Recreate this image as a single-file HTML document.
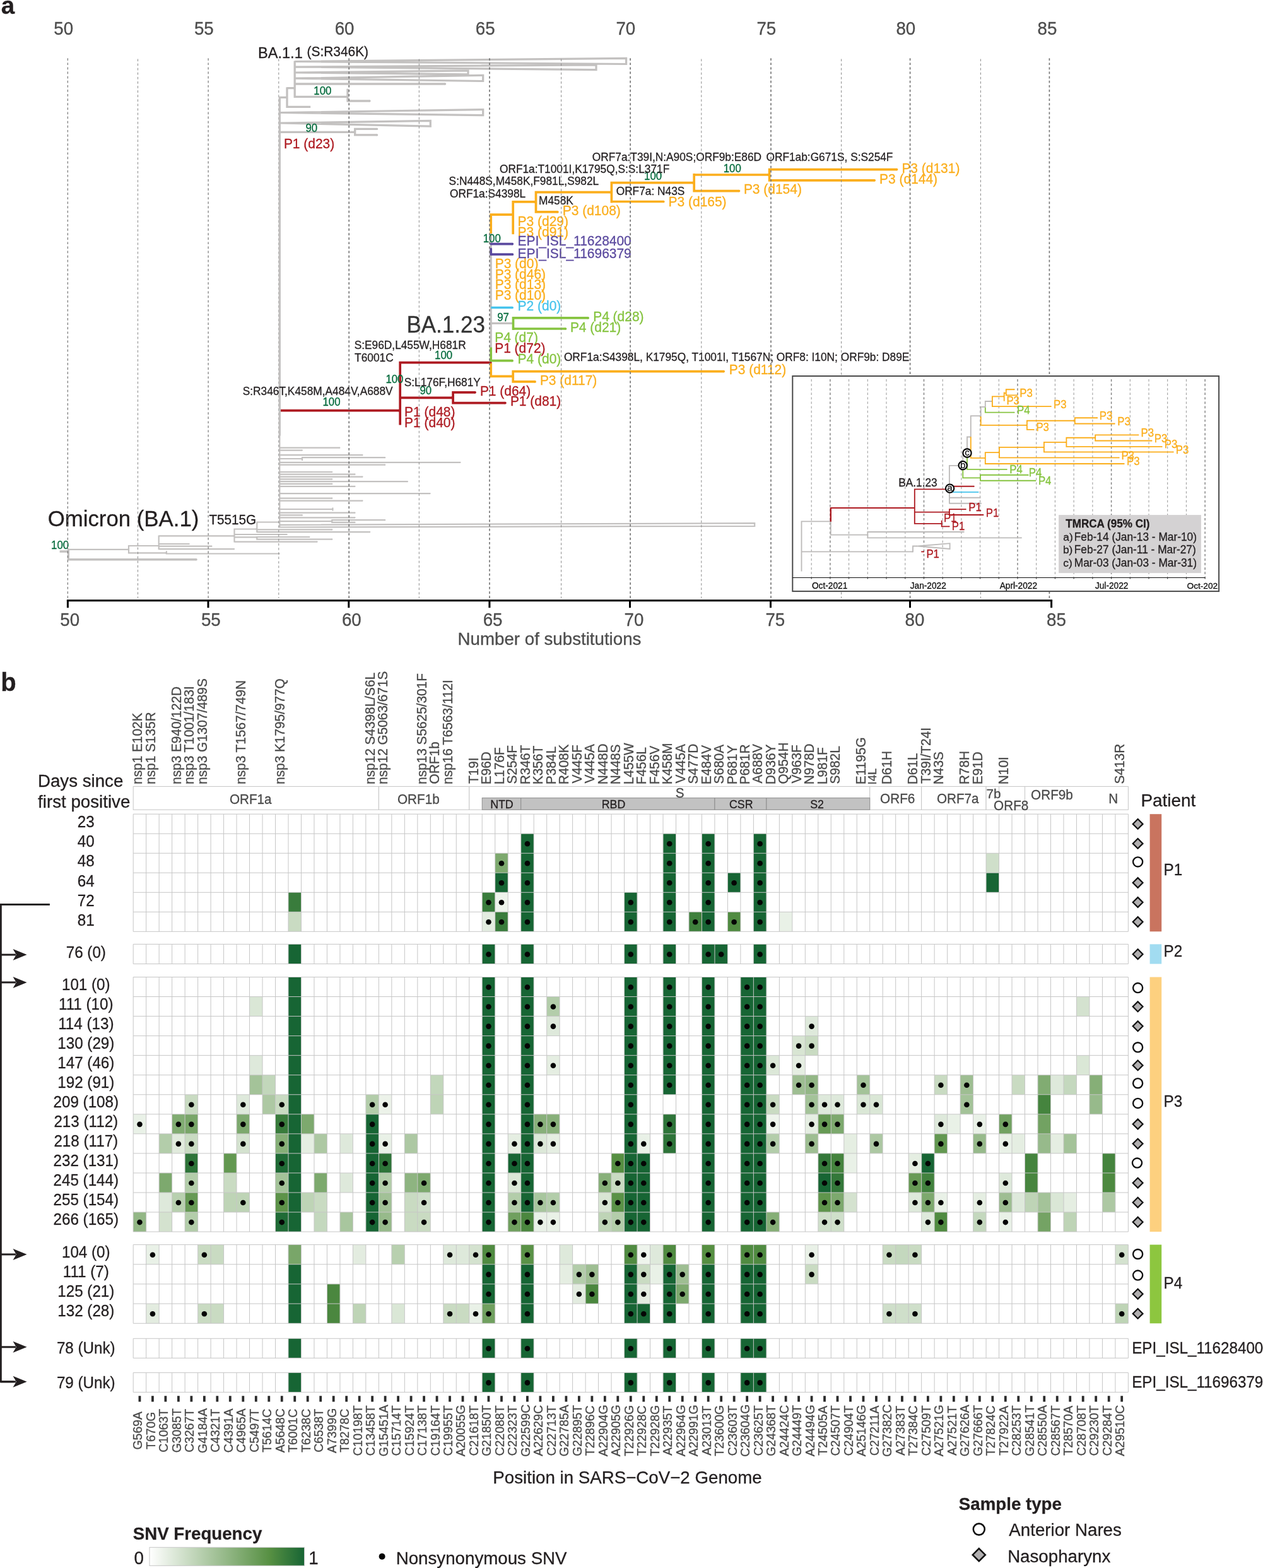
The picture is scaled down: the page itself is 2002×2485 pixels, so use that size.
<!DOCTYPE html>
<html lang="en"><head><meta charset="utf-8"><title>Figure</title>
<style>html,body{margin:0;padding:0;background:#fff}svg{display:block}text{white-space:pre}</style></head>
<body>
<svg width="2002" height="2485" viewBox="0 0 2002 2485" font-family="'Liberation Sans', sans-serif">
<rect width="2002" height="2485" fill="#fff"/>
<path d="M441.8 151.3V690.6" stroke="#8a8a8a" stroke-width="1.0" stroke-dasharray="3.7 3.4" stroke-dashoffset="1.00" fill="none"/>
<path d="M467.2 97.5L992.6 92.4V101.5ZM467.2 106.1L945 103V110.7ZM467.2 115.0L742 111.8V117.9ZM467.2 124.2L765.7 119.3V128.5ZM443.3 178.5L765.7 173.6V182.6ZM443.3 195.0L682.3 191.4V200.2Z" stroke="#c3c1c0" stroke-width="3.2" fill="none" stroke-linejoin="miter" stroke-miterlimit="2"/>
<path d="M443.3 152.7V690.6M441.8 154.3H453.4M455 138.2V169.3H492.2M455.0 139.7H465.6M467.2 96.4V153.4H551M551.0 140.7V160.6M549.5 160.0H586.0M467.2 133.0H705.6M443.3 209.3H561.1M562.7 202.8V215.6M562.7 204.4H597.6M562.7 213.9H597.6M778.2 367.9V551.1M778.2 512.4H810.9" stroke="#c3c1c0" stroke-width="3.3" fill="none" stroke-linecap="butt" stroke-linejoin="miter"/><path d="M453.4 154.3h0.01M465.6 139.7h0.01M586.0 160.0h0.01M705.6 133.0h0.01M561.1 209.3h0.01M597.6 204.4h0.01M597.6 213.9h0.01M810.9 512.4h0.01" stroke="#c3c1c0" stroke-width="3.3" fill="none" stroke-linecap="round"/>
<path d="M443.3 689.8V836.5M443.3 709.7H538.3M443.3 713.6H478.9M443.3 721.2H574.5M443.3 732.8H729.5M443.3 736.7H610.2M443.3 748.0H526.3M443.3 751.7H562.5M443.3 755.6H574.5M443.3 759.3H526.3M443.3 763.2H645.9M443.3 766.9H526.3M443.3 770.8H562.5M443.3 782.1H681.6M443.3 789.7H526.3M443.3 793.6H574.5M443.3 807.0H526.3M443.3 812.7H562.5M443.3 816.4H478.9M443.3 820.3H562.5M443.3 727.0H477.9M479.0 724.1V729.9M479.0 725.2H610.2M527.4 804.4V809.6M443.3 826.1H525.2M526.3 823.1V829.0M526.3 824.2H610.2M526.3 827.9H562.5M443.3 831.8L1196.2 829.2V833.8L443.3 835.5M108.4 870.8H202.9M204.0 864.0V877.4M204.0 876.3H262.8M263.9 873.2V878.5M263.9 877.5H442.7M204.0 865.0H250.6M251.7 848.4V871.1M251.7 862.0H299.7M251.7 865.7H335.4M251.7 870.1H371.1M251.7 849.4H370.4M371.5 837.5V859.6M371.5 838.5H406.2M407.3 826.5V844.1M407.3 827.5H442.2M407.3 843.1H586.2M407.3 839.4H526.3M371.5 847.0H454.7M371.5 851.3H406.2M407.3 850.0V855.8M407.3 851.0H490.4M407.3 854.7H526.3M371.5 858.6H502.6" stroke="#c3c1c0" stroke-width="2.2" fill="none" stroke-linecap="butt" stroke-linejoin="miter"/><path d="M538.3 709.7h0.01M478.9 713.6h0.01M574.5 721.2h0.01M729.5 732.8h0.01M610.2 736.7h0.01M526.3 748.0h0.01M562.5 751.7h0.01M574.5 755.6h0.01M526.3 759.3h0.01M645.9 763.2h0.01M526.3 766.9h0.01M562.5 770.8h0.01M681.6 782.1h0.01M526.3 789.7h0.01M574.5 793.6h0.01M526.3 807.0h0.01M562.5 812.7h0.01M478.9 816.4h0.01M562.5 820.3h0.01M477.9 727.0h0.01M610.2 725.2h0.01M525.2 826.1h0.01M610.2 824.2h0.01M562.5 827.9h0.01M202.9 870.8h0.01M262.8 876.3h0.01M442.7 877.5h0.01M250.6 865.0h0.01M299.7 862.0h0.01M335.4 865.7h0.01M371.1 870.1h0.01M370.4 849.4h0.01M406.2 838.5h0.01M442.2 827.5h0.01M586.2 843.1h0.01M526.3 839.4h0.01M454.7 847.0h0.01M406.2 851.3h0.01M490.4 851.0h0.01M526.3 854.7h0.01M502.6 858.6h0.01" stroke="#c3c1c0" stroke-width="2.2" fill="none" stroke-linecap="round"/>
<path d="M94.6 874.0H108.2M108.4 869.8V888.4M108.4 886.7H311.1" stroke="#c3c1c0" stroke-width="3.4" fill="none" stroke-linecap="butt" stroke-linejoin="miter"/><path d="M108.2 874.0h0.01M311.1 886.7h0.01" stroke="#c3c1c0" stroke-width="3.4" fill="none" stroke-linecap="round"/>
<path d="M445.0 650.6H632.4M634.2 572.8V673.5M634.2 574.6H777.9M634.2 630.4H716.2M718.1 619.9V640.5M718.1 621.8H753.1M718.1 638.6H800.9" stroke="#ae1b22" stroke-width="3.7" fill="none" stroke-linecap="butt" stroke-linejoin="miter"/><path d="M632.4 650.6h0.01M777.9 574.6h0.01M716.2 630.4h0.01M753.1 621.8h0.01M800.9 638.6h0.01" stroke="#ae1b22" stroke-width="3.7" fill="none" stroke-linecap="round"/>
<path d="M813.5 502.0V522.9M813.5 503.9H932.2M813.5 521.0H896.5M778.2 550.6V573.6M778.2 571.7H812.1" stroke="#86c440" stroke-width="3.7" fill="none" stroke-linecap="butt" stroke-linejoin="miter"/><path d="M932.2 503.9h0.01M896.5 521.0h0.01M812.1 571.7h0.01" stroke="#86c440" stroke-width="3.7" fill="none" stroke-linecap="round"/>
<path d="M778.2 370V340.2H813.2M813.2 318.0V371.2M813.2 319.9H847.6M849.5 302.8V337.8M849.5 335.9H883.9M849.5 304.6H967.5M969.4 287.8V321.4M969.4 319.5H1051.8M969.4 289.6H1098.4M1100.2 275.1V304.5M1100.2 302.6H1171.5M1100.2 277.0H1217.8M1219.6 266.8V287.7M1219.6 268.6H1421.5M1219.6 285.8H1386.2M778.2 575.8V596.4H813.2M813.2 586.8V606.8M813.2 588.6H1147.2M813.2 604.9H848.1" stroke="#fbae1c" stroke-width="3.7" fill="none" stroke-linecap="butt" stroke-linejoin="miter"/><path d="M847.6 319.9h0.01M883.9 335.9h0.01M967.5 304.6h0.01M1051.8 319.5h0.01M1098.4 289.6h0.01M1171.5 302.6h0.01M1217.8 277.0h0.01M1421.5 268.6h0.01M1386.2 285.8h0.01M1147.2 588.6h0.01M848.1 604.9h0.01" stroke="#fbae1c" stroke-width="3.7" fill="none" stroke-linecap="round"/>
<path d="M778.2 386.6H812.1M778.2 394.6V403.2H812.4M812.4 403.2h0.01" stroke="#5b4a9f" stroke-width="3.7" fill="none" stroke-linecap="round" stroke-linejoin="round"/><path d="M812.1 386.6h0.01" stroke="#5b4a9f" stroke-width="3.7" fill="none" stroke-linecap="round"/>
<path d="M778.2 487.5H812.1" stroke="#45c3ec" stroke-width="3.7" fill="none" stroke-linecap="butt" stroke-linejoin="miter"/><path d="M812.1 487.5h0.01" stroke="#45c3ec" stroke-width="3.7" fill="none" stroke-linecap="round"/>
<g fill="#fbae1c" stroke="#fbae1c" stroke-width="0.3">
<text x="1429.38" y="273.8" font-size="21.79" textLength="92.01" lengthAdjust="spacingAndGlyphs">P3 (d131)</text>
<text x="1394.08" y="290.5" font-size="21.79" textLength="92.01" lengthAdjust="spacingAndGlyphs">P3 (d144)</text>
<text x="1178.88" y="306.9" font-size="21.79" textLength="92.01" lengthAdjust="spacingAndGlyphs">P3 (d154)</text>
<text x="1059.58" y="327.1" font-size="21.79" textLength="92.01" lengthAdjust="spacingAndGlyphs">P3 (d165)</text>
<text x="891.78" y="340.9" font-size="21.79" textLength="92.01" lengthAdjust="spacingAndGlyphs">P3 (d108)</text>
<text x="820.58" y="357.7" font-size="21.79" textLength="80.35" lengthAdjust="spacingAndGlyphs">P3 (d29)</text>
<text x="820.58" y="375.0" font-size="21.79" textLength="80.35" lengthAdjust="spacingAndGlyphs">P3 (d91)</text>
<text x="784.68" y="424.6" font-size="21.79" textLength="68.70" lengthAdjust="spacingAndGlyphs">P3 (d0)</text>
<text x="784.68" y="441.6" font-size="21.79" textLength="80.35" lengthAdjust="spacingAndGlyphs">P3 (d46)</text>
<text x="784.68" y="458.3" font-size="21.79" textLength="80.35" lengthAdjust="spacingAndGlyphs">P3 (d13)</text>
<text x="784.68" y="475.1" font-size="21.79" textLength="80.35" lengthAdjust="spacingAndGlyphs">P3 (d10)</text>
<text x="855.88" y="609.9" font-size="21.79" textLength="90.45" lengthAdjust="spacingAndGlyphs">P3 (d117)</text>
<text x="1155.78" y="593.3" font-size="21.79" textLength="90.45" lengthAdjust="spacingAndGlyphs">P3 (d112)</text>
</g>
<g fill="#5b4a9f" stroke="#5b4a9f" stroke-width="0.3">
<text x="820.58" y="389.3" font-size="21.79" textLength="180.17" lengthAdjust="spacingAndGlyphs">EPI_ISL_11628400</text>
<text x="820.58" y="409.4" font-size="21.79" textLength="180.17" lengthAdjust="spacingAndGlyphs">EPI_ISL_11696379</text>
</g>
<text x="820.58" y="492.0" font-size="21.79" textLength="68.70" lengthAdjust="spacingAndGlyphs" fill="#45c3ec" stroke="#45c3ec" stroke-width="0.3">P2 (d0)</text>
<g fill="#86c440" stroke="#86c440" stroke-width="0.3">
<text x="940.18" y="508.8" font-size="21.79" textLength="80.35" lengthAdjust="spacingAndGlyphs">P4 (d28)</text>
<text x="903.88" y="525.7" font-size="21.79" textLength="80.35" lengthAdjust="spacingAndGlyphs">P4 (d21)</text>
<text x="784.18" y="542.2" font-size="21.79" textLength="68.70" lengthAdjust="spacingAndGlyphs">P4 (d7)</text>
<text x="820.58" y="576.2" font-size="21.79" textLength="68.70" lengthAdjust="spacingAndGlyphs">P4 (d0)</text>
</g>
<g fill="#ae1b22" stroke="#ae1b22" stroke-width="0.3">
<text x="449.88" y="234.5" font-size="21.79" textLength="80.35" lengthAdjust="spacingAndGlyphs">P1 (d23)</text>
<text x="784.18" y="559.1" font-size="21.79" textLength="80.35" lengthAdjust="spacingAndGlyphs">P1 (d72)</text>
<text x="760.88" y="626.8" font-size="21.79" textLength="80.35" lengthAdjust="spacingAndGlyphs">P1 (d64)</text>
<text x="808.88" y="643.3" font-size="21.79" textLength="80.35" lengthAdjust="spacingAndGlyphs">P1 (d81)</text>
<text x="641.08" y="660.1" font-size="21.79" textLength="80.35" lengthAdjust="spacingAndGlyphs">P1 (d48)</text>
<text x="641.08" y="676.7" font-size="21.79" textLength="80.35" lengthAdjust="spacingAndGlyphs">P1 (d40)</text>
</g>
<g fill="#00693a" stroke="#00693a" stroke-width="0.3">
<text x="497.32" y="149.6" font-size="17.47" textLength="28.03" lengthAdjust="spacingAndGlyphs">100</text>
<text x="484.51" y="209.0" font-size="17.47" textLength="18.69" lengthAdjust="spacingAndGlyphs">90</text>
<text x="765.72" y="383.8" font-size="17.47" textLength="28.03" lengthAdjust="spacingAndGlyphs">100</text>
<text x="1021.12" y="285.3" font-size="17.47" textLength="28.03" lengthAdjust="spacingAndGlyphs">100</text>
<text x="1146.72" y="272.7" font-size="17.47" textLength="28.03" lengthAdjust="spacingAndGlyphs">100</text>
<text x="788.21" y="509.0" font-size="17.47" textLength="18.69" lengthAdjust="spacingAndGlyphs">97</text>
<text x="689.12" y="568.7" font-size="17.47" textLength="28.03" lengthAdjust="spacingAndGlyphs">100</text>
<text x="611.42" y="607.1" font-size="17.47" textLength="28.03" lengthAdjust="spacingAndGlyphs">100</text>
<text x="665.51" y="625.1" font-size="17.47" textLength="18.69" lengthAdjust="spacingAndGlyphs">90</text>
<text x="511.52" y="642.8" font-size="17.47" textLength="28.03" lengthAdjust="spacingAndGlyphs">100</text>
<text x="81.12" y="870.1" font-size="17.47" textLength="28.03" lengthAdjust="spacingAndGlyphs">100</text>
</g>
<g fill="#231f20" stroke="#231f20" stroke-width="0.3">
<text x="938.78" y="254.8" font-size="17.99" textLength="268.26" lengthAdjust="spacingAndGlyphs">ORF7a:T39I,N:A90S;ORF9b:E86D</text>
<text x="1214.48" y="254.8" font-size="17.99" textLength="200.98" lengthAdjust="spacingAndGlyphs">ORF1ab:G671S, S:S254F</text>
<text x="791.98" y="274.1" font-size="17.99" textLength="269.27" lengthAdjust="spacingAndGlyphs">ORF1a:T1001I,K1795Q,S:S:L371F</text>
<text x="711.61" y="293.1" font-size="17.99" textLength="237.56" lengthAdjust="spacingAndGlyphs">S:N448S,M458K,F981L,S982L</text>
<text x="712.98" y="312.6" font-size="17.99" textLength="120.21" lengthAdjust="spacingAndGlyphs">ORF1a:S4398L</text>
<text x="854.08" y="323.7" font-size="17.99" textLength="54.82" lengthAdjust="spacingAndGlyphs">M458K</text>
<text x="976.68" y="308.6" font-size="17.99" textLength="108.65" lengthAdjust="spacingAndGlyphs">ORF7a: N43S</text>
<text x="893.88" y="571.7" font-size="17.99" textLength="547.49" lengthAdjust="spacingAndGlyphs">ORF1a:S4398L, K1795Q, T1001I, T1567N; ORF8: I10N; ORF9b: D89E</text>
<text x="561.71" y="552.7" font-size="17.99" textLength="176.95" lengthAdjust="spacingAndGlyphs">S:E96D,L455W,H681R</text>
<text x="562.11" y="573.2" font-size="17.99" textLength="61.55" lengthAdjust="spacingAndGlyphs">T6001C</text>
<text x="640.71" y="612.4" font-size="17.99" textLength="121.19" lengthAdjust="spacingAndGlyphs">S:L176F,H681Y</text>
<text x="384.71" y="626.1" font-size="17.99" textLength="237.89" lengthAdjust="spacingAndGlyphs">S:R346T,K458M,A484V,A688V</text>
</g>
<text x="331.44" y="830.9" font-size="21.53" textLength="74.79" lengthAdjust="spacingAndGlyphs" fill="#231f20" stroke="#231f20" stroke-width="0.3">T5515G</text>
<text x="75.65" y="833.9" font-size="34.8" fill="#231f20" stroke="#231f20" stroke-width="0.3">Omicron (BA.1)</text>
<text x="644.43" y="527.3" font-size="36.4" textLength="124.53" lengthAdjust="spacingAndGlyphs" fill="#333" stroke="#333" stroke-width="0.3">BA.1.23</text>
<text x="408.96" y="91.7" font-size="24.54" textLength="70.85" lengthAdjust="spacingAndGlyphs" fill="#231f20" stroke="#231f20" stroke-width="0.3">BA.1.1</text>
<text x="486.50" y="88.8" font-size="21.74" textLength="97.57" lengthAdjust="spacingAndGlyphs" fill="#231f20" stroke="#231f20" stroke-width="0.3">(S:R346K)</text>
<g font-size="27.7" fill="#4d4d4d" text-anchor="middle" stroke="#4d4d4d" stroke-width="0.3">
<text x="100.7" y="55.0" font-size="28.81" textLength="30.81" lengthAdjust="spacingAndGlyphs">50</text>
<text x="323.3" y="55.0" font-size="28.81" textLength="30.81" lengthAdjust="spacingAndGlyphs">55</text>
<text x="546.1" y="55.0" font-size="28.81" textLength="30.81" lengthAdjust="spacingAndGlyphs">60</text>
<text x="769.2" y="55.0" font-size="28.81" textLength="30.81" lengthAdjust="spacingAndGlyphs">65</text>
<text x="991.8" y="55.0" font-size="28.81" textLength="30.81" lengthAdjust="spacingAndGlyphs">70</text>
<text x="1214.8" y="55.0" font-size="28.81" textLength="30.81" lengthAdjust="spacingAndGlyphs">75</text>
<text x="1435.8" y="55.0" font-size="28.81" textLength="30.81" lengthAdjust="spacingAndGlyphs">80</text>
<text x="1659.9" y="55.0" font-size="28.81" textLength="30.81" lengthAdjust="spacingAndGlyphs">85</text>
<text x="110.7" y="991.6" font-size="28.81" textLength="30.81" lengthAdjust="spacingAndGlyphs">50</text>
<text x="334.3" y="991.6" font-size="28.81" textLength="30.81" lengthAdjust="spacingAndGlyphs">55</text>
<text x="557.3" y="991.6" font-size="28.81" textLength="30.81" lengthAdjust="spacingAndGlyphs">60</text>
<text x="781.1" y="991.6" font-size="28.81" textLength="30.81" lengthAdjust="spacingAndGlyphs">65</text>
<text x="1005.0" y="991.6" font-size="28.81" textLength="30.81" lengthAdjust="spacingAndGlyphs">70</text>
<text x="1228.8" y="991.6" font-size="28.81" textLength="30.81" lengthAdjust="spacingAndGlyphs">75</text>
<text x="1450.0" y="991.6" font-size="28.81" textLength="30.81" lengthAdjust="spacingAndGlyphs">80</text>
<text x="1674.4" y="991.6" font-size="28.81" textLength="30.81" lengthAdjust="spacingAndGlyphs">85</text>
<text x="871.0" y="1022.0">Number of substitutions</text>
</g>
<text x="1.87" y="22.0" font-size="38.6" font-weight="bold" fill="#231f20" stroke="#231f20" stroke-width="0.3">a</text>
<path d="M553.2 92.3V950.0M776.0 92.3V950.0M999.1 92.3V950.0M1222.0 92.3V950.0M1442.6 92.3V950.0M1663.4 92.3V950.0" stroke="#757575" stroke-width="1.65" stroke-dasharray="3.7 3.4" fill="none"/>
<path d="M107.4 92.3V950.0M330.1 92.3V950.0" stroke="#777" stroke-width="1.2" stroke-dasharray="3.7 3.4" fill="none"/>
<path d="M218.5 93.5V948.0M664.3 93.5V948.0M889.6 93.5V948.0M1111.8 93.5V948.0M1333.6 93.5V948.0M1554.4 93.5V948.0M441.8 93.5V151.3M441.8 690.6V948" stroke="#8a8a8a" stroke-width="1.0" stroke-dasharray="3.7 3.4" fill="none"/>
<rect x="1256.3" y="596" width="675.8" height="341.1" fill="#fff" stroke="#4a4a4a" stroke-width="2"/>
<path d="M1286.2 601.0V915.5M1345.6 601.0V915.5M1375.3 601.0V915.5M1405.0 601.0V915.5M1434.8 601.0V915.5M1494.2 601.0V915.5M1523.9 601.0V915.5M1553.6 601.0V915.5M1583.3 601.0V915.5M1642.7 601.0V915.5M1672.4 601.0V915.5M1702.1 601.0V915.5M1731.9 601.0V915.5M1791.3 601.0V915.5M1821.0 601.0V915.5M1850.7 601.0V915.5M1880.4 601.0V915.5" stroke="#969696" stroke-width="1.0" stroke-dasharray="3.7 3.4" fill="none"/>
<path d="M1315.9 601.0V915.5M1464.5 601.0V915.5M1613.0 601.0V915.5M1761.6 601.0V915.5M1910.1 601.0V915.5" stroke="#838383" stroke-width="1.45" stroke-dasharray="3.7 3.4" fill="none"/>
<rect x="1678.1" y="816.1" width="225.8" height="92.1" fill="#d4d2d3"/>
<g fill="#231f20" stroke="#231f20" stroke-width="0.3">
<text x="1689.21" y="835.7" font-size="17.78" textLength="133.32" lengthAdjust="spacingAndGlyphs" font-weight="bold">TMRCA (95% CI)</text>
<text x="1685.37" y="856.6" font-size="17.3">a)</text>
<text x="1702.78" y="856.6" font-size="17.99" textLength="194.21" lengthAdjust="spacingAndGlyphs">Feb-14 (Jan-13 - Mar-10)</text>
<text x="1684.98" y="877.3" font-size="17.3">b)</text>
<text x="1702.78" y="877.3" font-size="17.99" textLength="192.93" lengthAdjust="spacingAndGlyphs">Feb-27 (Jan-11 - Mar-27)</text>
<text x="1685.37" y="897.9" font-size="17.3">c)</text>
<text x="1702.78" y="897.9" font-size="17.99" textLength="194.20" lengthAdjust="spacingAndGlyphs">Mar-03 (Jan-03 - Mar-31)</text>
</g>
<path d="M1256.3 915.5H1910.6" stroke="#111" stroke-width="1.2" fill="none"/>
<path d="M1286.2 915.5V917.6M1315.9 915.5V917.6M1345.6 915.5V917.6M1375.3 915.5V917.6M1405.0 915.5V917.6M1434.8 915.5V917.6M1464.5 915.5V917.6M1494.2 915.5V917.6M1523.9 915.5V917.6M1553.6 915.5V917.6M1583.3 915.5V917.6M1613.0 915.5V917.6M1642.7 915.5V917.6M1672.4 915.5V917.6M1702.1 915.5V917.6M1731.9 915.5V917.6M1761.6 915.5V917.6M1791.3 915.5V917.6M1821.0 915.5V917.6M1850.7 915.5V917.6M1880.4 915.5V917.6M1910.1 915.5V917.6" stroke="#222" stroke-width="1" fill="none" stroke-linecap="butt" stroke-linejoin="miter"/>
<g fill="#111" stroke="#111" stroke-width="0.3">
<text x="1286.95" y="932.7" font-size="14.25" textLength="56.35" lengthAdjust="spacingAndGlyphs">Oct-2021</text>
<text x="1442.69" y="932.7" font-size="14.25" textLength="57.13" lengthAdjust="spacingAndGlyphs">Jan-2022</text>
<text x="1584.67" y="932.7" font-size="14.25" textLength="59.40" lengthAdjust="spacingAndGlyphs">Aprl-2022</text>
<text x="1735.89" y="932.7" font-size="14.25" textLength="52.55" lengthAdjust="spacingAndGlyphs">Jul-2022</text>
</g>
<clipPath id="ic"><rect x="1257" y="597" width="674" height="339"/></clipPath>
<text x="1881.5" y="932.7" font-size="13.7" fill="#111" clip-path="url(#ic)" stroke="#111" stroke-width="0.3">Oct-2022</text>
<path d="M1270.5 825.5V905.4M1270.5 826.4H1315.9M1316.8 826.2V848.5M1316.8 847.6H1374.5M1375.4 842.1V853.2M1375.4 843.0H1527.8M1375.4 852.3H1619.0M1270.5 874.4H1446.1M1447.0 864.6V875.3M1447.0 865.5H1454.1M1455 865.5L1505.6 861.2V870ZM1504.9 737.0V798.6M1504.9 788.7H1553.8M1504.9 797.7H1555.1M1504.9 737.9H1519.1M1526.3 717.8V732.2M1526.3 718.0H1529.1M1533.0 691.6V712.2M1533.0 692.5H1537.9M1538.8 658.2V692.7M1538.8 659.1H1553.8M1554.7 643.9V660.0M1554.7 644.8H1560.9M1561.8 635.1V645.7M1561.8 636.0H1572.0" stroke="#bdbbba" stroke-width="1.85" fill="none" stroke-linecap="butt" stroke-linejoin="miter"/><path d="M1315.9 826.4h0.01M1374.5 847.6h0.01M1527.8 843.0h0.01M1619.0 852.3h0.01M1446.1 874.4h0.01M1454.1 865.5h0.01M1553.8 788.7h0.01M1555.1 797.7h0.01M1519.1 737.9h0.01M1529.1 718.0h0.01M1537.9 692.5h0.01M1553.8 659.1h0.01M1560.9 644.8h0.01M1572.0 636.0h0.01" stroke="#bdbbba" stroke-width="1.85" fill="none" stroke-linecap="round"/>
<path d="M1572.9 627.5V645.0M1572.9 628.4H1590.8M1591.7 621.6V635.8M1591.7 623.1H1593.9M1594.8 616.3V627.2M1594.8 617.2H1607.7M1594.8 626.3H1612.5M1572.9 644.1H1666.0M1554.7 660.1V674.8M1554.7 673.9H1627.0M1627.9 665.8V681.8M1627.9 666.7H1702.9M1627.9 680.9H1638.8M1703.8 661.3V672.4M1703.8 662.2H1739.2M1703.8 671.5H1766.8M1538.8 692.3V726.8M1538.8 725.9H1560.9M1561.8 716.2V735.9M1561.8 717.1H1583.1M1561.8 735.0H1781.8M1584.0 708.0V726.2M1584.0 708.9H1654.0M1584.0 725.3H1773.8M1654.9 699.9V717.2M1654.9 700.8H1689.5M1654.9 716.3H1859.8M1690.4 692.8V708.7M1690.4 693.7H1735.3M1690.4 707.8H1841.8M1736.2 688.4V699.4M1736.2 689.3H1804.5M1736.2 698.5H1825.6" stroke="#fbae1c" stroke-width="1.85" fill="none" stroke-linecap="butt" stroke-linejoin="miter"/><path d="M1590.8 628.4h0.01M1593.9 623.1h0.01M1607.7 617.2h0.01M1612.5 626.3h0.01M1666.0 644.1h0.01M1627.0 673.9h0.01M1702.9 666.7h0.01M1638.8 680.9h0.01M1739.2 662.2h0.01M1766.8 671.5h0.01M1560.9 725.9h0.01M1583.1 717.1h0.01M1781.8 735.0h0.01M1654.0 708.9h0.01M1773.8 725.3h0.01M1689.5 700.8h0.01M1859.8 716.3h0.01M1735.3 693.7h0.01M1841.8 707.8h0.01M1804.5 689.3h0.01M1825.6 698.5h0.01" stroke="#fbae1c" stroke-width="1.85" fill="none" stroke-linecap="round"/>
<path d="M1561.8 645.7V654.5M1561.8 653.6H1607.7M1533.0 724.6V744.7M1533.0 743.8H1595.9M1526.3 744.8V758.2M1526.3 757.3H1553.1M1554.0 751.8V762.6M1554.0 752.7H1629.8M1554.0 761.7H1641.5" stroke="#86c440" stroke-width="1.85" fill="none" stroke-linecap="butt" stroke-linejoin="miter"/><path d="M1607.7 653.6h0.01M1595.9 743.8h0.01M1553.1 757.3h0.01M1629.8 752.7h0.01M1641.5 761.7h0.01" stroke="#86c440" stroke-width="1.85" fill="none" stroke-linecap="round"/>
<path d="M1316.8 805.0H1448.9M1449.8 774.5V830.8M1449.8 775.4H1499.1M1449.8 811.6H1504.0M1449.8 829.9H1491.8M1511.0 770.7H1543.8M1504.9 806.2V816.9M1504.9 807.1H1530.9M1504.9 816.0H1558.6M1492.7 824.8V835.2M1492.7 834.3H1504.7M1460.2 874.4H1464.1" stroke="#ae1b22" stroke-width="1.85" fill="none" stroke-linecap="butt" stroke-linejoin="miter"/><path d="M1448.9 805.0h0.01M1499.1 775.4h0.01M1504.0 811.6h0.01M1491.8 829.9h0.01M1543.8 770.7h0.01M1530.9 807.1h0.01M1558.6 816.0h0.01M1504.7 834.3h0.01M1464.1 874.4h0.01" stroke="#ae1b22" stroke-width="1.85" fill="none" stroke-linecap="round"/>
<path d="M1316.8 804.2V826.8" stroke="#ae1b22" stroke-width="2.4" fill="none" stroke-linecap="butt" stroke-linejoin="miter"/>
<path d="M1509.7 779.8H1550.7" stroke="#45c3ec" stroke-width="1.85" fill="none" stroke-linecap="butt" stroke-linejoin="miter"/><path d="M1550.7 779.8h0.01" stroke="#45c3ec" stroke-width="1.85" fill="none" stroke-linecap="round"/>
<g fill="#fbae1c" stroke="#fbae1c" stroke-width="0.3">
<text x="1616.22" y="628.6" font-size="17.47" textLength="20.55" lengthAdjust="spacingAndGlyphs">P3</text>
<text x="1595.42" y="641.3" font-size="17.47" textLength="20.55" lengthAdjust="spacingAndGlyphs">P3</text>
<text x="1670.12" y="647.2" font-size="17.47" textLength="20.55" lengthAdjust="spacingAndGlyphs">P3</text>
<text x="1642.42" y="683.2" font-size="17.47" textLength="20.55" lengthAdjust="spacingAndGlyphs">P3</text>
<text x="1742.82" y="665.3" font-size="17.47" textLength="20.55" lengthAdjust="spacingAndGlyphs">P3</text>
<text x="1771.22" y="674.2" font-size="17.47" textLength="20.55" lengthAdjust="spacingAndGlyphs">P3</text>
<text x="1808.52" y="692.2" font-size="17.47" textLength="20.55" lengthAdjust="spacingAndGlyphs">P3</text>
<text x="1829.72" y="701.2" font-size="17.47" textLength="20.55" lengthAdjust="spacingAndGlyphs">P3</text>
<text x="1845.82" y="710.2" font-size="17.47" textLength="20.55" lengthAdjust="spacingAndGlyphs">P3</text>
<text x="1863.82" y="719.2" font-size="17.47" textLength="20.55" lengthAdjust="spacingAndGlyphs">P3</text>
<text x="1777.42" y="728.2" font-size="17.47" textLength="20.55" lengthAdjust="spacingAndGlyphs">P3</text>
<text x="1786.02" y="737.2" font-size="17.47" textLength="20.55" lengthAdjust="spacingAndGlyphs">P3</text>
</g>
<g fill="#86c440" stroke="#86c440" stroke-width="0.3">
<text x="1612.02" y="656.2" font-size="17.47" textLength="20.55" lengthAdjust="spacingAndGlyphs">P4</text>
<text x="1600.32" y="750.1" font-size="17.47" textLength="20.55" lengthAdjust="spacingAndGlyphs">P4</text>
<text x="1630.72" y="755.1" font-size="17.47" textLength="20.55" lengthAdjust="spacingAndGlyphs">P4</text>
<text x="1645.92" y="767.6" font-size="17.47" textLength="20.55" lengthAdjust="spacingAndGlyphs">P4</text>
</g>
<g fill="#ae1b22" stroke="#ae1b22" stroke-width="0.3">
<text x="1535.32" y="809.7" font-size="17.47" textLength="20.55" lengthAdjust="spacingAndGlyphs">P1</text>
<text x="1562.72" y="818.7" font-size="17.47" textLength="20.55" lengthAdjust="spacingAndGlyphs">P1</text>
<text x="1495.92" y="827.0" font-size="17.47" textLength="20.55" lengthAdjust="spacingAndGlyphs">P1</text>
<text x="1508.72" y="839.9" font-size="17.47" textLength="20.55" lengthAdjust="spacingAndGlyphs">P1</text>
<text x="1468.42" y="883.7" font-size="17.47" textLength="20.55" lengthAdjust="spacingAndGlyphs">P1</text>
</g>
<text x="1424.18" y="770.7" font-size="17.99" textLength="61.56" lengthAdjust="spacingAndGlyphs" fill="#231f20" stroke="#231f20" stroke-width="0.3">BA.1.23</text>
<circle cx="1505.6" cy="774.1" r="6.65" fill="#fff" stroke="#000" stroke-width="2.1"/>
<text x="1505.6" y="778.3" font-size="15.2" fill="#111" stroke="#111" stroke-width="0.25" text-anchor="middle">a</text>
<circle cx="1526.2" cy="737.6" r="6.65" fill="#fff" stroke="#000" stroke-width="2.1"/>
<text x="1526.2" y="742.2" font-size="15.2" fill="#111" stroke="#111" stroke-width="0.25" text-anchor="middle">b</text>
<circle cx="1533.0" cy="718.0" r="6.65" fill="#fff" stroke="#000" stroke-width="2.1"/>
<text x="1533.0" y="722.2" font-size="15.2" fill="#111" stroke="#111" stroke-width="0.25" text-anchor="middle">c</text>
<path d="M105.9 951.7H1668.1" stroke="#000" stroke-width="3" fill="none"/>
<path d="M107.4 951.0V963.2M330.0 951.0V963.2M552.8 951.0V963.2M775.9 951.0V963.2M998.5 951.0V963.2M1221.5 951.0V963.2M1442.5 951.0V963.2M1666.6 951.0V963.2" stroke="#000" stroke-width="3.0" fill="none" stroke-linecap="butt" stroke-linejoin="miter"/>
<g shape-rendering="crispEdges">
<rect x="457.00" y="2121.30" width="20.48" height="31.00" fill="#176534"/>
<rect x="764.24" y="2121.30" width="20.48" height="31.00" fill="#176534"/>
<rect x="825.69" y="2121.30" width="20.48" height="31.00" fill="#176534"/>
<rect x="989.55" y="2121.30" width="20.48" height="31.00" fill="#176534"/>
<rect x="1051.00" y="2121.30" width="20.48" height="31.00" fill="#176534"/>
<rect x="1112.45" y="2121.30" width="20.48" height="31.00" fill="#176534"/>
<rect x="1173.90" y="2121.30" width="20.48" height="31.00" fill="#176534"/>
<rect x="1194.38" y="2121.30" width="20.48" height="31.00" fill="#176534"/>
<rect x="457.00" y="2175.40" width="20.48" height="31.00" fill="#176534"/>
<rect x="764.24" y="2175.40" width="20.48" height="31.00" fill="#176534"/>
<rect x="825.69" y="2175.40" width="20.48" height="31.00" fill="#176534"/>
<rect x="989.55" y="2175.40" width="20.48" height="31.00" fill="#176534"/>
<rect x="1051.00" y="2175.40" width="20.48" height="31.00" fill="#176534"/>
<rect x="1112.45" y="2175.40" width="20.48" height="31.00" fill="#176534"/>
<rect x="1173.90" y="2175.40" width="20.48" height="31.00" fill="#176534"/>
<rect x="1194.38" y="2175.40" width="20.48" height="31.00" fill="#176534"/>
<rect x="825.69" y="1321.22" width="20.48" height="31.02" fill="#176534"/>
<rect x="1051.00" y="1321.22" width="20.48" height="31.02" fill="#176534"/>
<rect x="1112.45" y="1321.22" width="20.48" height="31.02" fill="#176534"/>
<rect x="1194.38" y="1321.22" width="20.48" height="31.02" fill="#176534"/>
<rect x="784.72" y="1352.23" width="20.48" height="31.02" fill="#7da96e"/>
<rect x="825.69" y="1352.23" width="20.48" height="31.02" fill="#176534"/>
<rect x="1051.00" y="1352.23" width="20.48" height="31.02" fill="#176534"/>
<rect x="1112.45" y="1352.23" width="20.48" height="31.02" fill="#176534"/>
<rect x="1194.38" y="1352.23" width="20.48" height="31.02" fill="#176534"/>
<rect x="1563.08" y="1352.23" width="20.48" height="31.02" fill="#cfdfca"/>
<rect x="784.72" y="1383.25" width="20.48" height="31.02" fill="#176534"/>
<rect x="825.69" y="1383.25" width="20.48" height="31.02" fill="#176534"/>
<rect x="1051.00" y="1383.25" width="20.48" height="31.02" fill="#176534"/>
<rect x="1112.45" y="1383.25" width="20.48" height="31.02" fill="#176534"/>
<rect x="1153.42" y="1383.25" width="20.48" height="31.02" fill="#176534"/>
<rect x="1194.38" y="1383.25" width="20.48" height="31.02" fill="#176534"/>
<rect x="1563.08" y="1383.25" width="20.48" height="31.02" fill="#176534"/>
<rect x="457.00" y="1414.27" width="20.48" height="31.02" fill="#397c3c"/>
<rect x="764.24" y="1414.27" width="20.48" height="31.02" fill="#397c3c"/>
<rect x="784.72" y="1414.27" width="20.48" height="31.02" fill="#eef4ec"/>
<rect x="825.69" y="1414.27" width="20.48" height="31.02" fill="#176534"/>
<rect x="989.55" y="1414.27" width="20.48" height="31.02" fill="#176534"/>
<rect x="1051.00" y="1414.27" width="20.48" height="31.02" fill="#176534"/>
<rect x="1112.45" y="1414.27" width="20.48" height="31.02" fill="#176534"/>
<rect x="1194.38" y="1414.27" width="20.48" height="31.02" fill="#176534"/>
<rect x="457.00" y="1445.28" width="20.48" height="31.02" fill="#c9dbc2"/>
<rect x="764.24" y="1445.28" width="20.48" height="31.02" fill="#e3ece0"/>
<rect x="784.72" y="1445.28" width="20.48" height="31.02" fill="#397c3c"/>
<rect x="825.69" y="1445.28" width="20.48" height="31.02" fill="#176534"/>
<rect x="989.55" y="1445.28" width="20.48" height="31.02" fill="#176534"/>
<rect x="1051.00" y="1445.28" width="20.48" height="31.02" fill="#176534"/>
<rect x="1091.97" y="1445.28" width="20.48" height="31.02" fill="#3f803d"/>
<rect x="1112.45" y="1445.28" width="20.48" height="31.02" fill="#176534"/>
<rect x="1153.42" y="1445.28" width="20.48" height="31.02" fill="#508b41"/>
<rect x="1194.38" y="1445.28" width="20.48" height="31.02" fill="#176534"/>
<rect x="1235.35" y="1445.28" width="20.48" height="31.02" fill="#e9f1e7"/>
<rect x="457.00" y="1496.40" width="20.48" height="31.20" fill="#176534"/>
<rect x="764.24" y="1496.40" width="20.48" height="31.20" fill="#176534"/>
<rect x="825.69" y="1496.40" width="20.48" height="31.20" fill="#176534"/>
<rect x="989.55" y="1496.40" width="20.48" height="31.20" fill="#176534"/>
<rect x="1051.00" y="1496.40" width="20.48" height="31.20" fill="#176534"/>
<rect x="1112.45" y="1496.40" width="20.48" height="31.20" fill="#176534"/>
<rect x="1132.93" y="1496.40" width="20.48" height="31.20" fill="#176534"/>
<rect x="1194.38" y="1496.40" width="20.48" height="31.20" fill="#176534"/>
<rect x="457.00" y="1548.50" width="20.48" height="31.05" fill="#176534"/>
<rect x="764.24" y="1548.50" width="20.48" height="31.05" fill="#176534"/>
<rect x="825.69" y="1548.50" width="20.48" height="31.05" fill="#176534"/>
<rect x="989.55" y="1548.50" width="20.48" height="31.05" fill="#176534"/>
<rect x="1051.00" y="1548.50" width="20.48" height="31.05" fill="#176534"/>
<rect x="1112.45" y="1548.50" width="20.48" height="31.05" fill="#176534"/>
<rect x="1173.90" y="1548.50" width="20.48" height="31.05" fill="#176534"/>
<rect x="1194.38" y="1548.50" width="20.48" height="31.05" fill="#176534"/>
<rect x="395.55" y="1579.55" width="20.48" height="31.05" fill="#dae7d6"/>
<rect x="457.00" y="1579.55" width="20.48" height="31.05" fill="#176534"/>
<rect x="764.24" y="1579.55" width="20.48" height="31.05" fill="#176534"/>
<rect x="825.69" y="1579.55" width="20.48" height="31.05" fill="#176534"/>
<rect x="866.66" y="1579.55" width="20.48" height="31.05" fill="#b3cdaa"/>
<rect x="989.55" y="1579.55" width="20.48" height="31.05" fill="#176534"/>
<rect x="1051.00" y="1579.55" width="20.48" height="31.05" fill="#176534"/>
<rect x="1112.45" y="1579.55" width="20.48" height="31.05" fill="#176534"/>
<rect x="1173.90" y="1579.55" width="20.48" height="31.05" fill="#176534"/>
<rect x="1194.38" y="1579.55" width="20.48" height="31.05" fill="#176534"/>
<rect x="1706.46" y="1579.55" width="20.48" height="31.05" fill="#d4e2cf"/>
<rect x="457.00" y="1610.59" width="20.48" height="31.05" fill="#176534"/>
<rect x="764.24" y="1610.59" width="20.48" height="31.05" fill="#176534"/>
<rect x="825.69" y="1610.59" width="20.48" height="31.05" fill="#176534"/>
<rect x="866.66" y="1610.59" width="20.48" height="31.05" fill="#dee9db"/>
<rect x="989.55" y="1610.59" width="20.48" height="31.05" fill="#176534"/>
<rect x="1051.00" y="1610.59" width="20.48" height="31.05" fill="#176534"/>
<rect x="1112.45" y="1610.59" width="20.48" height="31.05" fill="#176534"/>
<rect x="1173.90" y="1610.59" width="20.48" height="31.05" fill="#176534"/>
<rect x="1194.38" y="1610.59" width="20.48" height="31.05" fill="#176534"/>
<rect x="1276.32" y="1610.59" width="20.48" height="31.05" fill="#dee9db"/>
<rect x="457.00" y="1641.64" width="20.48" height="31.05" fill="#176534"/>
<rect x="764.24" y="1641.64" width="20.48" height="31.05" fill="#176534"/>
<rect x="825.69" y="1641.64" width="20.48" height="31.05" fill="#176534"/>
<rect x="989.55" y="1641.64" width="20.48" height="31.05" fill="#176534"/>
<rect x="1051.00" y="1641.64" width="20.48" height="31.05" fill="#176534"/>
<rect x="1112.45" y="1641.64" width="20.48" height="31.05" fill="#176534"/>
<rect x="1173.90" y="1641.64" width="20.48" height="31.05" fill="#176534"/>
<rect x="1194.38" y="1641.64" width="20.48" height="31.05" fill="#176534"/>
<rect x="1255.83" y="1641.64" width="20.48" height="31.05" fill="#d8e5d3"/>
<rect x="1276.32" y="1641.64" width="20.48" height="31.05" fill="#c9dbc2"/>
<rect x="395.55" y="1672.68" width="20.48" height="31.05" fill="#dee9db"/>
<rect x="457.00" y="1672.68" width="20.48" height="31.05" fill="#176534"/>
<rect x="764.24" y="1672.68" width="20.48" height="31.05" fill="#176534"/>
<rect x="825.69" y="1672.68" width="20.48" height="31.05" fill="#176534"/>
<rect x="866.66" y="1672.68" width="20.48" height="31.05" fill="#e5eee2"/>
<rect x="989.55" y="1672.68" width="20.48" height="31.05" fill="#176534"/>
<rect x="1051.00" y="1672.68" width="20.48" height="31.05" fill="#176534"/>
<rect x="1112.45" y="1672.68" width="20.48" height="31.05" fill="#176534"/>
<rect x="1173.90" y="1672.68" width="20.48" height="31.05" fill="#176534"/>
<rect x="1194.38" y="1672.68" width="20.48" height="31.05" fill="#176534"/>
<rect x="1214.87" y="1672.68" width="20.48" height="31.05" fill="#dce8d8"/>
<rect x="1255.83" y="1672.68" width="20.48" height="31.05" fill="#e5eee2"/>
<rect x="1706.46" y="1672.68" width="20.48" height="31.05" fill="#dae7d6"/>
<rect x="395.55" y="1703.73" width="20.48" height="31.05" fill="#a4c399"/>
<rect x="416.03" y="1703.73" width="20.48" height="31.05" fill="#c2d7bb"/>
<rect x="457.00" y="1703.73" width="20.48" height="31.05" fill="#176534"/>
<rect x="682.31" y="1703.73" width="20.48" height="31.05" fill="#c2d7bb"/>
<rect x="764.24" y="1703.73" width="20.48" height="31.05" fill="#176534"/>
<rect x="825.69" y="1703.73" width="20.48" height="31.05" fill="#176534"/>
<rect x="989.55" y="1703.73" width="20.48" height="31.05" fill="#176534"/>
<rect x="1051.00" y="1703.73" width="20.48" height="31.05" fill="#176534"/>
<rect x="1112.45" y="1703.73" width="20.48" height="31.05" fill="#176534"/>
<rect x="1173.90" y="1703.73" width="20.48" height="31.05" fill="#176534"/>
<rect x="1194.38" y="1703.73" width="20.48" height="31.05" fill="#176534"/>
<rect x="1255.83" y="1703.73" width="20.48" height="31.05" fill="#9ebe92"/>
<rect x="1276.32" y="1703.73" width="20.48" height="31.05" fill="#93b786"/>
<rect x="1358.25" y="1703.73" width="20.48" height="31.05" fill="#a4c399"/>
<rect x="1481.15" y="1703.73" width="20.48" height="31.05" fill="#c9dbc2"/>
<rect x="1522.11" y="1703.73" width="20.48" height="31.05" fill="#9ebe92"/>
<rect x="1604.04" y="1703.73" width="20.48" height="31.05" fill="#c9dbc2"/>
<rect x="1645.01" y="1703.73" width="20.48" height="31.05" fill="#81ac72"/>
<rect x="1665.49" y="1703.73" width="20.48" height="31.05" fill="#dee9db"/>
<rect x="1685.98" y="1703.73" width="20.48" height="31.05" fill="#c4d8be"/>
<rect x="1726.94" y="1703.73" width="20.48" height="31.05" fill="#86af77"/>
<rect x="293.13" y="1734.78" width="20.48" height="31.05" fill="#c9dbc2"/>
<rect x="375.06" y="1734.78" width="20.48" height="31.05" fill="#dee9db"/>
<rect x="416.03" y="1734.78" width="20.48" height="31.05" fill="#adc8a3"/>
<rect x="436.51" y="1734.78" width="20.48" height="31.05" fill="#c9dbc2"/>
<rect x="457.00" y="1734.78" width="20.48" height="31.05" fill="#176534"/>
<rect x="579.89" y="1734.78" width="20.48" height="31.05" fill="#b3cdaa"/>
<rect x="600.38" y="1734.78" width="20.48" height="31.05" fill="#ecf2e9"/>
<rect x="682.31" y="1734.78" width="20.48" height="31.05" fill="#bed4b6"/>
<rect x="764.24" y="1734.78" width="20.48" height="31.05" fill="#176534"/>
<rect x="825.69" y="1734.78" width="20.48" height="31.05" fill="#176534"/>
<rect x="989.55" y="1734.78" width="20.48" height="31.05" fill="#176534"/>
<rect x="1112.45" y="1734.78" width="20.48" height="31.05" fill="#176534"/>
<rect x="1173.90" y="1734.78" width="20.48" height="31.05" fill="#176534"/>
<rect x="1194.38" y="1734.78" width="20.48" height="31.05" fill="#176534"/>
<rect x="1214.87" y="1734.78" width="20.48" height="31.05" fill="#c9dbc2"/>
<rect x="1276.32" y="1734.78" width="20.48" height="31.05" fill="#a4c399"/>
<rect x="1296.80" y="1734.78" width="20.48" height="31.05" fill="#dee9db"/>
<rect x="1317.28" y="1734.78" width="20.48" height="31.05" fill="#dee9db"/>
<rect x="1358.25" y="1734.78" width="20.48" height="31.05" fill="#dae7d6"/>
<rect x="1378.73" y="1734.78" width="20.48" height="31.05" fill="#dae7d6"/>
<rect x="1522.11" y="1734.78" width="20.48" height="31.05" fill="#a4c399"/>
<rect x="1645.01" y="1734.78" width="20.48" height="31.05" fill="#45843e"/>
<rect x="1726.94" y="1734.78" width="20.48" height="31.05" fill="#97ba8b"/>
<rect x="211.20" y="1765.82" width="20.48" height="31.05" fill="#e9f1e7"/>
<rect x="272.65" y="1765.82" width="20.48" height="31.05" fill="#81ac72"/>
<rect x="293.13" y="1765.82" width="20.48" height="31.05" fill="#79a669"/>
<rect x="375.06" y="1765.82" width="20.48" height="31.05" fill="#7da96e"/>
<rect x="436.51" y="1765.82" width="20.48" height="31.05" fill="#397c3c"/>
<rect x="457.00" y="1765.82" width="20.48" height="31.05" fill="#176534"/>
<rect x="477.48" y="1765.82" width="20.48" height="31.05" fill="#7da96e"/>
<rect x="579.89" y="1765.82" width="20.48" height="31.05" fill="#176534"/>
<rect x="764.24" y="1765.82" width="20.48" height="31.05" fill="#176534"/>
<rect x="825.69" y="1765.82" width="20.48" height="31.05" fill="#176534"/>
<rect x="846.17" y="1765.82" width="20.48" height="31.05" fill="#88b07a"/>
<rect x="866.66" y="1765.82" width="20.48" height="31.05" fill="#88b07a"/>
<rect x="989.55" y="1765.82" width="20.48" height="31.05" fill="#176534"/>
<rect x="1051.00" y="1765.82" width="20.48" height="31.05" fill="#2e7439"/>
<rect x="1112.45" y="1765.82" width="20.48" height="31.05" fill="#176534"/>
<rect x="1173.90" y="1765.82" width="20.48" height="31.05" fill="#176534"/>
<rect x="1194.38" y="1765.82" width="20.48" height="31.05" fill="#176534"/>
<rect x="1214.87" y="1765.82" width="20.48" height="31.05" fill="#eef4ec"/>
<rect x="1276.32" y="1765.82" width="20.48" height="31.05" fill="#e5eee2"/>
<rect x="1296.80" y="1765.82" width="20.48" height="31.05" fill="#679a55"/>
<rect x="1317.28" y="1765.82" width="20.48" height="31.05" fill="#7da96e"/>
<rect x="1481.15" y="1765.82" width="20.48" height="31.05" fill="#dee9db"/>
<rect x="1501.63" y="1765.82" width="20.48" height="31.05" fill="#e9f1e7"/>
<rect x="1542.60" y="1765.82" width="20.48" height="31.05" fill="#e9f1e7"/>
<rect x="1583.56" y="1765.82" width="20.48" height="31.05" fill="#72a262"/>
<rect x="1645.01" y="1765.82" width="20.48" height="31.05" fill="#72a262"/>
<rect x="252.17" y="1796.87" width="20.48" height="31.05" fill="#b3cdaa"/>
<rect x="272.65" y="1796.87" width="20.48" height="31.05" fill="#e1ebdd"/>
<rect x="293.13" y="1796.87" width="20.48" height="31.05" fill="#c9dbc2"/>
<rect x="375.06" y="1796.87" width="20.48" height="31.05" fill="#d4e2cf"/>
<rect x="436.51" y="1796.87" width="20.48" height="31.05" fill="#86af77"/>
<rect x="457.00" y="1796.87" width="20.48" height="31.05" fill="#176534"/>
<rect x="477.48" y="1796.87" width="20.48" height="31.05" fill="#e5eee2"/>
<rect x="497.96" y="1796.87" width="20.48" height="31.05" fill="#adc8a3"/>
<rect x="538.93" y="1796.87" width="20.48" height="31.05" fill="#dee9db"/>
<rect x="579.89" y="1796.87" width="20.48" height="31.05" fill="#176534"/>
<rect x="600.38" y="1796.87" width="20.48" height="31.05" fill="#e9f1e7"/>
<rect x="641.34" y="1796.87" width="20.48" height="31.05" fill="#adc8a3"/>
<rect x="764.24" y="1796.87" width="20.48" height="31.05" fill="#176534"/>
<rect x="805.21" y="1796.87" width="20.48" height="31.05" fill="#e5eee2"/>
<rect x="825.69" y="1796.87" width="20.48" height="31.05" fill="#176534"/>
<rect x="846.17" y="1796.87" width="20.48" height="31.05" fill="#dce8d8"/>
<rect x="866.66" y="1796.87" width="20.48" height="31.05" fill="#e5eee2"/>
<rect x="989.55" y="1796.87" width="20.48" height="31.05" fill="#176534"/>
<rect x="1010.04" y="1796.87" width="20.48" height="31.05" fill="#e9f1e7"/>
<rect x="1051.00" y="1796.87" width="20.48" height="31.05" fill="#2e7439"/>
<rect x="1112.45" y="1796.87" width="20.48" height="31.05" fill="#176534"/>
<rect x="1173.90" y="1796.87" width="20.48" height="31.05" fill="#176534"/>
<rect x="1194.38" y="1796.87" width="20.48" height="31.05" fill="#176534"/>
<rect x="1214.87" y="1796.87" width="20.48" height="31.05" fill="#b3cdaa"/>
<rect x="1276.32" y="1796.87" width="20.48" height="31.05" fill="#9ebe92"/>
<rect x="1337.77" y="1796.87" width="20.48" height="31.05" fill="#e5eee2"/>
<rect x="1378.73" y="1796.87" width="20.48" height="31.05" fill="#adc8a3"/>
<rect x="1481.15" y="1796.87" width="20.48" height="31.05" fill="#639851"/>
<rect x="1542.60" y="1796.87" width="20.48" height="31.05" fill="#97ba8b"/>
<rect x="1583.56" y="1796.87" width="20.48" height="31.05" fill="#e9f1e7"/>
<rect x="1604.04" y="1796.87" width="20.48" height="31.05" fill="#e5eee2"/>
<rect x="1645.01" y="1796.87" width="20.48" height="31.05" fill="#97ba8b"/>
<rect x="1665.49" y="1796.87" width="20.48" height="31.05" fill="#e5eee2"/>
<rect x="1685.98" y="1796.87" width="20.48" height="31.05" fill="#a4c399"/>
<rect x="293.13" y="1827.92" width="20.48" height="31.05" fill="#2e7439"/>
<rect x="354.58" y="1827.92" width="20.48" height="31.05" fill="#639851"/>
<rect x="436.51" y="1827.92" width="20.48" height="31.05" fill="#206b36"/>
<rect x="457.00" y="1827.92" width="20.48" height="31.05" fill="#176534"/>
<rect x="579.89" y="1827.92" width="20.48" height="31.05" fill="#176534"/>
<rect x="600.38" y="1827.92" width="20.48" height="31.05" fill="#2e7439"/>
<rect x="764.24" y="1827.92" width="20.48" height="31.05" fill="#176534"/>
<rect x="805.21" y="1827.92" width="20.48" height="31.05" fill="#176534"/>
<rect x="825.69" y="1827.92" width="20.48" height="31.05" fill="#176534"/>
<rect x="969.07" y="1827.92" width="20.48" height="31.05" fill="#568f42"/>
<rect x="989.55" y="1827.92" width="20.48" height="31.05" fill="#176534"/>
<rect x="1010.04" y="1827.92" width="20.48" height="31.05" fill="#176534"/>
<rect x="1112.45" y="1827.92" width="20.48" height="31.05" fill="#176534"/>
<rect x="1173.90" y="1827.92" width="20.48" height="31.05" fill="#176534"/>
<rect x="1194.38" y="1827.92" width="20.48" height="31.05" fill="#176534"/>
<rect x="1296.80" y="1827.92" width="20.48" height="31.05" fill="#34783a"/>
<rect x="1317.28" y="1827.92" width="20.48" height="31.05" fill="#45843e"/>
<rect x="1337.77" y="1827.92" width="20.48" height="31.05" fill="#e9f1e7"/>
<rect x="1440.18" y="1827.92" width="20.48" height="31.05" fill="#e5eee2"/>
<rect x="1460.66" y="1827.92" width="20.48" height="31.05" fill="#176534"/>
<rect x="1624.53" y="1827.92" width="20.48" height="31.05" fill="#45843e"/>
<rect x="1747.43" y="1827.92" width="20.48" height="31.05" fill="#45843e"/>
<rect x="252.17" y="1858.96" width="20.48" height="31.05" fill="#7da96e"/>
<rect x="293.13" y="1858.96" width="20.48" height="31.05" fill="#b3cdaa"/>
<rect x="354.58" y="1858.96" width="20.48" height="31.05" fill="#c9dbc2"/>
<rect x="436.51" y="1858.96" width="20.48" height="31.05" fill="#a4c399"/>
<rect x="457.00" y="1858.96" width="20.48" height="31.05" fill="#176534"/>
<rect x="497.96" y="1858.96" width="20.48" height="31.05" fill="#7da96e"/>
<rect x="538.93" y="1858.96" width="20.48" height="31.05" fill="#dee9db"/>
<rect x="579.89" y="1858.96" width="20.48" height="31.05" fill="#176534"/>
<rect x="600.38" y="1858.96" width="20.48" height="31.05" fill="#b3cdaa"/>
<rect x="641.34" y="1858.96" width="20.48" height="31.05" fill="#8eb481"/>
<rect x="661.83" y="1858.96" width="20.48" height="31.05" fill="#7da96e"/>
<rect x="764.24" y="1858.96" width="20.48" height="31.05" fill="#176534"/>
<rect x="805.21" y="1858.96" width="20.48" height="31.05" fill="#dce8d8"/>
<rect x="825.69" y="1858.96" width="20.48" height="31.05" fill="#176534"/>
<rect x="948.59" y="1858.96" width="20.48" height="31.05" fill="#88b07a"/>
<rect x="969.07" y="1858.96" width="20.48" height="31.05" fill="#c9dbc2"/>
<rect x="989.55" y="1858.96" width="20.48" height="31.05" fill="#176534"/>
<rect x="1010.04" y="1858.96" width="20.48" height="31.05" fill="#176534"/>
<rect x="1112.45" y="1858.96" width="20.48" height="31.05" fill="#176534"/>
<rect x="1173.90" y="1858.96" width="20.48" height="31.05" fill="#176534"/>
<rect x="1194.38" y="1858.96" width="20.48" height="31.05" fill="#176534"/>
<rect x="1296.80" y="1858.96" width="20.48" height="31.05" fill="#176534"/>
<rect x="1317.28" y="1858.96" width="20.48" height="31.05" fill="#34783a"/>
<rect x="1440.18" y="1858.96" width="20.48" height="31.05" fill="#679a55"/>
<rect x="1460.66" y="1858.96" width="20.48" height="31.05" fill="#42823e"/>
<rect x="1583.56" y="1858.96" width="20.48" height="31.05" fill="#dee9db"/>
<rect x="1624.53" y="1858.96" width="20.48" height="31.05" fill="#48853f"/>
<rect x="1747.43" y="1858.96" width="20.48" height="31.05" fill="#4d8940"/>
<rect x="252.17" y="1890.01" width="20.48" height="31.05" fill="#dee9db"/>
<rect x="272.65" y="1890.01" width="20.48" height="31.05" fill="#b8d0af"/>
<rect x="293.13" y="1890.01" width="20.48" height="31.05" fill="#679a55"/>
<rect x="354.58" y="1890.01" width="20.48" height="31.05" fill="#bed4b6"/>
<rect x="375.06" y="1890.01" width="20.48" height="31.05" fill="#bed4b6"/>
<rect x="436.51" y="1890.01" width="20.48" height="31.05" fill="#5d9349"/>
<rect x="457.00" y="1890.01" width="20.48" height="31.05" fill="#176534"/>
<rect x="477.48" y="1890.01" width="20.48" height="31.05" fill="#bed4b6"/>
<rect x="497.96" y="1890.01" width="20.48" height="31.05" fill="#c9dbc2"/>
<rect x="579.89" y="1890.01" width="20.48" height="31.05" fill="#176534"/>
<rect x="600.38" y="1890.01" width="20.48" height="31.05" fill="#a2c197"/>
<rect x="641.34" y="1890.01" width="20.48" height="31.05" fill="#c9dbc2"/>
<rect x="661.83" y="1890.01" width="20.48" height="31.05" fill="#cfdfca"/>
<rect x="764.24" y="1890.01" width="20.48" height="31.05" fill="#176534"/>
<rect x="805.21" y="1890.01" width="20.48" height="31.05" fill="#b3cdaa"/>
<rect x="825.69" y="1890.01" width="20.48" height="31.05" fill="#176534"/>
<rect x="846.17" y="1890.01" width="20.48" height="31.05" fill="#a8c69e"/>
<rect x="866.66" y="1890.01" width="20.48" height="31.05" fill="#b3cdaa"/>
<rect x="948.59" y="1890.01" width="20.48" height="31.05" fill="#d8e5d3"/>
<rect x="969.07" y="1890.01" width="20.48" height="31.05" fill="#5a9247"/>
<rect x="989.55" y="1890.01" width="20.48" height="31.05" fill="#176534"/>
<rect x="1010.04" y="1890.01" width="20.48" height="31.05" fill="#176534"/>
<rect x="1112.45" y="1890.01" width="20.48" height="31.05" fill="#176534"/>
<rect x="1173.90" y="1890.01" width="20.48" height="31.05" fill="#176534"/>
<rect x="1194.38" y="1890.01" width="20.48" height="31.05" fill="#176534"/>
<rect x="1296.80" y="1890.01" width="20.48" height="31.05" fill="#5f954c"/>
<rect x="1317.28" y="1890.01" width="20.48" height="31.05" fill="#7da96e"/>
<rect x="1337.77" y="1890.01" width="20.48" height="31.05" fill="#d4e2cf"/>
<rect x="1440.18" y="1890.01" width="20.48" height="31.05" fill="#dee9db"/>
<rect x="1460.66" y="1890.01" width="20.48" height="31.05" fill="#7da96e"/>
<rect x="1481.15" y="1890.01" width="20.48" height="31.05" fill="#e9f1e7"/>
<rect x="1542.60" y="1890.01" width="20.48" height="31.05" fill="#e5eee2"/>
<rect x="1583.56" y="1890.01" width="20.48" height="31.05" fill="#9ebe92"/>
<rect x="1604.04" y="1890.01" width="20.48" height="31.05" fill="#dee9db"/>
<rect x="1624.53" y="1890.01" width="20.48" height="31.05" fill="#bed4b6"/>
<rect x="1645.01" y="1890.01" width="20.48" height="31.05" fill="#a4c399"/>
<rect x="1665.49" y="1890.01" width="20.48" height="31.05" fill="#dae7d6"/>
<rect x="1685.98" y="1890.01" width="20.48" height="31.05" fill="#e5eee2"/>
<rect x="1747.43" y="1890.01" width="20.48" height="31.05" fill="#adc8a3"/>
<rect x="211.20" y="1921.05" width="20.48" height="31.05" fill="#93b786"/>
<rect x="252.17" y="1921.05" width="20.48" height="31.05" fill="#d4e2cf"/>
<rect x="293.13" y="1921.05" width="20.48" height="31.05" fill="#b3cdaa"/>
<rect x="436.51" y="1921.05" width="20.48" height="31.05" fill="#206b36"/>
<rect x="457.00" y="1921.05" width="20.48" height="31.05" fill="#176534"/>
<rect x="497.96" y="1921.05" width="20.48" height="31.05" fill="#c4d8be"/>
<rect x="538.93" y="1921.05" width="20.48" height="31.05" fill="#a8c69e"/>
<rect x="579.89" y="1921.05" width="20.48" height="31.05" fill="#176534"/>
<rect x="600.38" y="1921.05" width="20.48" height="31.05" fill="#97ba8b"/>
<rect x="641.34" y="1921.05" width="20.48" height="31.05" fill="#c9dbc2"/>
<rect x="661.83" y="1921.05" width="20.48" height="31.05" fill="#c9dbc2"/>
<rect x="764.24" y="1921.05" width="20.48" height="31.05" fill="#176534"/>
<rect x="805.21" y="1921.05" width="20.48" height="31.05" fill="#70a05f"/>
<rect x="825.69" y="1921.05" width="20.48" height="31.05" fill="#4b873f"/>
<rect x="846.17" y="1921.05" width="20.48" height="31.05" fill="#e9f1e7"/>
<rect x="866.66" y="1921.05" width="20.48" height="31.05" fill="#e9f1e7"/>
<rect x="948.59" y="1921.05" width="20.48" height="31.05" fill="#bed4b6"/>
<rect x="969.07" y="1921.05" width="20.48" height="31.05" fill="#b3cdaa"/>
<rect x="989.55" y="1921.05" width="20.48" height="31.05" fill="#176534"/>
<rect x="1010.04" y="1921.05" width="20.48" height="31.05" fill="#176534"/>
<rect x="1112.45" y="1921.05" width="20.48" height="31.05" fill="#176534"/>
<rect x="1173.90" y="1921.05" width="20.48" height="31.05" fill="#176534"/>
<rect x="1194.38" y="1921.05" width="20.48" height="31.05" fill="#176534"/>
<rect x="1214.87" y="1921.05" width="20.48" height="31.05" fill="#86af77"/>
<rect x="1296.80" y="1921.05" width="20.48" height="31.05" fill="#cfdfca"/>
<rect x="1317.28" y="1921.05" width="20.48" height="31.05" fill="#cfdfca"/>
<rect x="1460.66" y="1921.05" width="20.48" height="31.05" fill="#dee9db"/>
<rect x="1481.15" y="1921.05" width="20.48" height="31.05" fill="#508b41"/>
<rect x="1542.60" y="1921.05" width="20.48" height="31.05" fill="#c4d8be"/>
<rect x="1583.56" y="1921.05" width="20.48" height="31.05" fill="#e9f1e7"/>
<rect x="1645.01" y="1921.05" width="20.48" height="31.05" fill="#74a364"/>
<rect x="1685.98" y="1921.05" width="20.48" height="31.05" fill="#bed4b6"/>
<rect x="231.68" y="1972.60" width="20.48" height="31.18" fill="#e9f1e7"/>
<rect x="313.62" y="1972.60" width="20.48" height="31.18" fill="#c9dbc2"/>
<rect x="334.10" y="1972.60" width="20.48" height="31.18" fill="#c9dbc2"/>
<rect x="457.00" y="1972.60" width="20.48" height="31.18" fill="#79a669"/>
<rect x="559.41" y="1972.60" width="20.48" height="31.18" fill="#e3ece0"/>
<rect x="620.86" y="1972.60" width="20.48" height="31.18" fill="#b8d0af"/>
<rect x="702.79" y="1972.60" width="20.48" height="31.18" fill="#dee9db"/>
<rect x="723.28" y="1972.60" width="20.48" height="31.18" fill="#dee9db"/>
<rect x="743.76" y="1972.60" width="20.48" height="31.18" fill="#d4e2cf"/>
<rect x="764.24" y="1972.60" width="20.48" height="31.18" fill="#508b41"/>
<rect x="825.69" y="1972.60" width="20.48" height="31.18" fill="#5a9247"/>
<rect x="887.14" y="1972.60" width="20.48" height="31.18" fill="#dee9db"/>
<rect x="989.55" y="1972.60" width="20.48" height="31.18" fill="#508b41"/>
<rect x="1010.04" y="1972.60" width="20.48" height="31.18" fill="#eef4ec"/>
<rect x="1030.52" y="1972.60" width="20.48" height="31.18" fill="#dee9db"/>
<rect x="1051.00" y="1972.60" width="20.48" height="31.18" fill="#508b41"/>
<rect x="1112.45" y="1972.60" width="20.48" height="31.18" fill="#568f42"/>
<rect x="1173.90" y="1972.60" width="20.48" height="31.18" fill="#508b41"/>
<rect x="1194.38" y="1972.60" width="20.48" height="31.18" fill="#508b41"/>
<rect x="1276.32" y="1972.60" width="20.48" height="31.18" fill="#e9f1e7"/>
<rect x="1399.21" y="1972.60" width="20.48" height="31.18" fill="#c9dbc2"/>
<rect x="1419.70" y="1972.60" width="20.48" height="31.18" fill="#c4d8be"/>
<rect x="1440.18" y="1972.60" width="20.48" height="31.18" fill="#c9dbc2"/>
<rect x="1767.91" y="1972.60" width="20.48" height="31.18" fill="#d4e2cf"/>
<rect x="457.00" y="2003.78" width="20.48" height="31.17" fill="#176534"/>
<rect x="764.24" y="2003.78" width="20.48" height="31.17" fill="#176534"/>
<rect x="825.69" y="2003.78" width="20.48" height="31.17" fill="#176534"/>
<rect x="887.14" y="2003.78" width="20.48" height="31.17" fill="#e5eee2"/>
<rect x="907.62" y="2003.78" width="20.48" height="31.17" fill="#b3cdaa"/>
<rect x="928.11" y="2003.78" width="20.48" height="31.17" fill="#9ebe92"/>
<rect x="989.55" y="2003.78" width="20.48" height="31.17" fill="#176534"/>
<rect x="1010.04" y="2003.78" width="20.48" height="31.17" fill="#c9dbc2"/>
<rect x="1030.52" y="2003.78" width="20.48" height="31.17" fill="#e9f1e7"/>
<rect x="1051.00" y="2003.78" width="20.48" height="31.17" fill="#176534"/>
<rect x="1071.49" y="2003.78" width="20.48" height="31.17" fill="#9ebe92"/>
<rect x="1112.45" y="2003.78" width="20.48" height="31.17" fill="#176534"/>
<rect x="1173.90" y="2003.78" width="20.48" height="31.17" fill="#176534"/>
<rect x="1194.38" y="2003.78" width="20.48" height="31.17" fill="#176534"/>
<rect x="1276.32" y="2003.78" width="20.48" height="31.17" fill="#c9dbc2"/>
<rect x="457.00" y="2034.95" width="20.48" height="31.17" fill="#176534"/>
<rect x="518.44" y="2034.95" width="20.48" height="31.17" fill="#4b873f"/>
<rect x="764.24" y="2034.95" width="20.48" height="31.17" fill="#176534"/>
<rect x="825.69" y="2034.95" width="20.48" height="31.17" fill="#176534"/>
<rect x="907.62" y="2034.95" width="20.48" height="31.17" fill="#e3ece0"/>
<rect x="928.11" y="2034.95" width="20.48" height="31.17" fill="#4b873f"/>
<rect x="989.55" y="2034.95" width="20.48" height="31.17" fill="#176534"/>
<rect x="1010.04" y="2034.95" width="20.48" height="31.17" fill="#e3ece0"/>
<rect x="1051.00" y="2034.95" width="20.48" height="31.17" fill="#176534"/>
<rect x="1071.49" y="2034.95" width="20.48" height="31.17" fill="#7da96e"/>
<rect x="1112.45" y="2034.95" width="20.48" height="31.17" fill="#176534"/>
<rect x="1173.90" y="2034.95" width="20.48" height="31.17" fill="#176534"/>
<rect x="1194.38" y="2034.95" width="20.48" height="31.17" fill="#176534"/>
<rect x="231.68" y="2066.12" width="20.48" height="31.18" fill="#e3ece0"/>
<rect x="313.62" y="2066.12" width="20.48" height="31.18" fill="#c9dbc2"/>
<rect x="334.10" y="2066.12" width="20.48" height="31.18" fill="#c9dbc2"/>
<rect x="457.00" y="2066.12" width="20.48" height="31.18" fill="#176534"/>
<rect x="518.44" y="2066.12" width="20.48" height="31.18" fill="#4b873f"/>
<rect x="559.41" y="2066.12" width="20.48" height="31.18" fill="#bed4b6"/>
<rect x="620.86" y="2066.12" width="20.48" height="31.18" fill="#dae7d6"/>
<rect x="702.79" y="2066.12" width="20.48" height="31.18" fill="#c9dbc2"/>
<rect x="723.28" y="2066.12" width="20.48" height="31.18" fill="#c9dbc2"/>
<rect x="743.76" y="2066.12" width="20.48" height="31.18" fill="#e9f1e7"/>
<rect x="764.24" y="2066.12" width="20.48" height="31.18" fill="#70a05f"/>
<rect x="825.69" y="2066.12" width="20.48" height="31.18" fill="#176534"/>
<rect x="989.55" y="2066.12" width="20.48" height="31.18" fill="#176534"/>
<rect x="1010.04" y="2066.12" width="20.48" height="31.18" fill="#176534"/>
<rect x="1051.00" y="2066.12" width="20.48" height="31.18" fill="#176534"/>
<rect x="1112.45" y="2066.12" width="20.48" height="31.18" fill="#176534"/>
<rect x="1173.90" y="2066.12" width="20.48" height="31.18" fill="#176534"/>
<rect x="1194.38" y="2066.12" width="20.48" height="31.18" fill="#176534"/>
<rect x="1399.21" y="2066.12" width="20.48" height="31.18" fill="#cfdfca"/>
<rect x="1419.70" y="2066.12" width="20.48" height="31.18" fill="#cfdfca"/>
<rect x="1440.18" y="2066.12" width="20.48" height="31.18" fill="#cfdfca"/>
<rect x="1767.91" y="2066.12" width="20.48" height="31.18" fill="#bed4b6"/>
</g>
<path d="M211.20 1290.20V1476.30M231.68 1290.20V1476.30M252.17 1290.20V1476.30M272.65 1290.20V1476.30M293.13 1290.20V1476.30M313.62 1290.20V1476.30M334.10 1290.20V1476.30M354.58 1290.20V1476.30M375.06 1290.20V1476.30M395.55 1290.20V1476.30M416.03 1290.20V1476.30M436.51 1290.20V1476.30M457.00 1290.20V1476.30M477.48 1290.20V1476.30M497.96 1290.20V1476.30M518.44 1290.20V1476.30M538.93 1290.20V1476.30M559.41 1290.20V1476.30M579.89 1290.20V1476.30M600.38 1290.20V1476.30M620.86 1290.20V1476.30M641.34 1290.20V1476.30M661.83 1290.20V1476.30M682.31 1290.20V1476.30M702.79 1290.20V1476.30M723.28 1290.20V1476.30M743.76 1290.20V1476.30M764.24 1290.20V1476.30M784.72 1290.20V1476.30M805.21 1290.20V1476.30M825.69 1290.20V1476.30M846.17 1290.20V1476.30M866.66 1290.20V1476.30M887.14 1290.20V1476.30M907.62 1290.20V1476.30M928.11 1290.20V1476.30M948.59 1290.20V1476.30M969.07 1290.20V1476.30M989.55 1290.20V1476.30M1010.04 1290.20V1476.30M1030.52 1290.20V1476.30M1051.00 1290.20V1476.30M1071.49 1290.20V1476.30M1091.97 1290.20V1476.30M1112.45 1290.20V1476.30M1132.93 1290.20V1476.30M1153.42 1290.20V1476.30M1173.90 1290.20V1476.30M1194.38 1290.20V1476.30M1214.87 1290.20V1476.30M1235.35 1290.20V1476.30M1255.83 1290.20V1476.30M1276.32 1290.20V1476.30M1296.80 1290.20V1476.30M1317.28 1290.20V1476.30M1337.77 1290.20V1476.30M1358.25 1290.20V1476.30M1378.73 1290.20V1476.30M1399.21 1290.20V1476.30M1419.70 1290.20V1476.30M1440.18 1290.20V1476.30M1460.66 1290.20V1476.30M1481.15 1290.20V1476.30M1501.63 1290.20V1476.30M1522.11 1290.20V1476.30M1542.60 1290.20V1476.30M1563.08 1290.20V1476.30M1583.56 1290.20V1476.30M1604.04 1290.20V1476.30M1624.53 1290.20V1476.30M1645.01 1290.20V1476.30M1665.49 1290.20V1476.30M1685.98 1290.20V1476.30M1706.46 1290.20V1476.30M1726.94 1290.20V1476.30M1747.43 1290.20V1476.30M1767.91 1290.20V1476.30M1788.39 1290.20V1476.30M211.20 1290.20H1788.39M211.20 1321.22H1788.39M211.20 1352.23H1788.39M211.20 1383.25H1788.39M211.20 1414.27H1788.39M211.20 1445.28H1788.39M211.20 1476.30H1788.39M211.20 1496.40V1527.60M231.68 1496.40V1527.60M252.17 1496.40V1527.60M272.65 1496.40V1527.60M293.13 1496.40V1527.60M313.62 1496.40V1527.60M334.10 1496.40V1527.60M354.58 1496.40V1527.60M375.06 1496.40V1527.60M395.55 1496.40V1527.60M416.03 1496.40V1527.60M436.51 1496.40V1527.60M457.00 1496.40V1527.60M477.48 1496.40V1527.60M497.96 1496.40V1527.60M518.44 1496.40V1527.60M538.93 1496.40V1527.60M559.41 1496.40V1527.60M579.89 1496.40V1527.60M600.38 1496.40V1527.60M620.86 1496.40V1527.60M641.34 1496.40V1527.60M661.83 1496.40V1527.60M682.31 1496.40V1527.60M702.79 1496.40V1527.60M723.28 1496.40V1527.60M743.76 1496.40V1527.60M764.24 1496.40V1527.60M784.72 1496.40V1527.60M805.21 1496.40V1527.60M825.69 1496.40V1527.60M846.17 1496.40V1527.60M866.66 1496.40V1527.60M887.14 1496.40V1527.60M907.62 1496.40V1527.60M928.11 1496.40V1527.60M948.59 1496.40V1527.60M969.07 1496.40V1527.60M989.55 1496.40V1527.60M1010.04 1496.40V1527.60M1030.52 1496.40V1527.60M1051.00 1496.40V1527.60M1071.49 1496.40V1527.60M1091.97 1496.40V1527.60M1112.45 1496.40V1527.60M1132.93 1496.40V1527.60M1153.42 1496.40V1527.60M1173.90 1496.40V1527.60M1194.38 1496.40V1527.60M1214.87 1496.40V1527.60M1235.35 1496.40V1527.60M1255.83 1496.40V1527.60M1276.32 1496.40V1527.60M1296.80 1496.40V1527.60M1317.28 1496.40V1527.60M1337.77 1496.40V1527.60M1358.25 1496.40V1527.60M1378.73 1496.40V1527.60M1399.21 1496.40V1527.60M1419.70 1496.40V1527.60M1440.18 1496.40V1527.60M1460.66 1496.40V1527.60M1481.15 1496.40V1527.60M1501.63 1496.40V1527.60M1522.11 1496.40V1527.60M1542.60 1496.40V1527.60M1563.08 1496.40V1527.60M1583.56 1496.40V1527.60M1604.04 1496.40V1527.60M1624.53 1496.40V1527.60M1645.01 1496.40V1527.60M1665.49 1496.40V1527.60M1685.98 1496.40V1527.60M1706.46 1496.40V1527.60M1726.94 1496.40V1527.60M1747.43 1496.40V1527.60M1767.91 1496.40V1527.60M1788.39 1496.40V1527.60M211.20 1496.40H1788.39M211.20 1527.60H1788.39M211.20 1548.50V1952.10M231.68 1548.50V1952.10M252.17 1548.50V1952.10M272.65 1548.50V1952.10M293.13 1548.50V1952.10M313.62 1548.50V1952.10M334.10 1548.50V1952.10M354.58 1548.50V1952.10M375.06 1548.50V1952.10M395.55 1548.50V1952.10M416.03 1548.50V1952.10M436.51 1548.50V1952.10M457.00 1548.50V1952.10M477.48 1548.50V1952.10M497.96 1548.50V1952.10M518.44 1548.50V1952.10M538.93 1548.50V1952.10M559.41 1548.50V1952.10M579.89 1548.50V1952.10M600.38 1548.50V1952.10M620.86 1548.50V1952.10M641.34 1548.50V1952.10M661.83 1548.50V1952.10M682.31 1548.50V1952.10M702.79 1548.50V1952.10M723.28 1548.50V1952.10M743.76 1548.50V1952.10M764.24 1548.50V1952.10M784.72 1548.50V1952.10M805.21 1548.50V1952.10M825.69 1548.50V1952.10M846.17 1548.50V1952.10M866.66 1548.50V1952.10M887.14 1548.50V1952.10M907.62 1548.50V1952.10M928.11 1548.50V1952.10M948.59 1548.50V1952.10M969.07 1548.50V1952.10M989.55 1548.50V1952.10M1010.04 1548.50V1952.10M1030.52 1548.50V1952.10M1051.00 1548.50V1952.10M1071.49 1548.50V1952.10M1091.97 1548.50V1952.10M1112.45 1548.50V1952.10M1132.93 1548.50V1952.10M1153.42 1548.50V1952.10M1173.90 1548.50V1952.10M1194.38 1548.50V1952.10M1214.87 1548.50V1952.10M1235.35 1548.50V1952.10M1255.83 1548.50V1952.10M1276.32 1548.50V1952.10M1296.80 1548.50V1952.10M1317.28 1548.50V1952.10M1337.77 1548.50V1952.10M1358.25 1548.50V1952.10M1378.73 1548.50V1952.10M1399.21 1548.50V1952.10M1419.70 1548.50V1952.10M1440.18 1548.50V1952.10M1460.66 1548.50V1952.10M1481.15 1548.50V1952.10M1501.63 1548.50V1952.10M1522.11 1548.50V1952.10M1542.60 1548.50V1952.10M1563.08 1548.50V1952.10M1583.56 1548.50V1952.10M1604.04 1548.50V1952.10M1624.53 1548.50V1952.10M1645.01 1548.50V1952.10M1665.49 1548.50V1952.10M1685.98 1548.50V1952.10M1706.46 1548.50V1952.10M1726.94 1548.50V1952.10M1747.43 1548.50V1952.10M1767.91 1548.50V1952.10M1788.39 1548.50V1952.10M211.20 1548.50H1788.39M211.20 1579.55H1788.39M211.20 1610.59H1788.39M211.20 1641.64H1788.39M211.20 1672.68H1788.39M211.20 1703.73H1788.39M211.20 1734.78H1788.39M211.20 1765.82H1788.39M211.20 1796.87H1788.39M211.20 1827.92H1788.39M211.20 1858.96H1788.39M211.20 1890.01H1788.39M211.20 1921.05H1788.39M211.20 1952.10H1788.39M211.20 1972.60V2097.30M231.68 1972.60V2097.30M252.17 1972.60V2097.30M272.65 1972.60V2097.30M293.13 1972.60V2097.30M313.62 1972.60V2097.30M334.10 1972.60V2097.30M354.58 1972.60V2097.30M375.06 1972.60V2097.30M395.55 1972.60V2097.30M416.03 1972.60V2097.30M436.51 1972.60V2097.30M457.00 1972.60V2097.30M477.48 1972.60V2097.30M497.96 1972.60V2097.30M518.44 1972.60V2097.30M538.93 1972.60V2097.30M559.41 1972.60V2097.30M579.89 1972.60V2097.30M600.38 1972.60V2097.30M620.86 1972.60V2097.30M641.34 1972.60V2097.30M661.83 1972.60V2097.30M682.31 1972.60V2097.30M702.79 1972.60V2097.30M723.28 1972.60V2097.30M743.76 1972.60V2097.30M764.24 1972.60V2097.30M784.72 1972.60V2097.30M805.21 1972.60V2097.30M825.69 1972.60V2097.30M846.17 1972.60V2097.30M866.66 1972.60V2097.30M887.14 1972.60V2097.30M907.62 1972.60V2097.30M928.11 1972.60V2097.30M948.59 1972.60V2097.30M969.07 1972.60V2097.30M989.55 1972.60V2097.30M1010.04 1972.60V2097.30M1030.52 1972.60V2097.30M1051.00 1972.60V2097.30M1071.49 1972.60V2097.30M1091.97 1972.60V2097.30M1112.45 1972.60V2097.30M1132.93 1972.60V2097.30M1153.42 1972.60V2097.30M1173.90 1972.60V2097.30M1194.38 1972.60V2097.30M1214.87 1972.60V2097.30M1235.35 1972.60V2097.30M1255.83 1972.60V2097.30M1276.32 1972.60V2097.30M1296.80 1972.60V2097.30M1317.28 1972.60V2097.30M1337.77 1972.60V2097.30M1358.25 1972.60V2097.30M1378.73 1972.60V2097.30M1399.21 1972.60V2097.30M1419.70 1972.60V2097.30M1440.18 1972.60V2097.30M1460.66 1972.60V2097.30M1481.15 1972.60V2097.30M1501.63 1972.60V2097.30M1522.11 1972.60V2097.30M1542.60 1972.60V2097.30M1563.08 1972.60V2097.30M1583.56 1972.60V2097.30M1604.04 1972.60V2097.30M1624.53 1972.60V2097.30M1645.01 1972.60V2097.30M1665.49 1972.60V2097.30M1685.98 1972.60V2097.30M1706.46 1972.60V2097.30M1726.94 1972.60V2097.30M1747.43 1972.60V2097.30M1767.91 1972.60V2097.30M1788.39 1972.60V2097.30M211.20 1972.60H1788.39M211.20 2003.78H1788.39M211.20 2034.95H1788.39M211.20 2066.12H1788.39M211.20 2097.30H1788.39M211.20 2121.30V2152.30M231.68 2121.30V2152.30M252.17 2121.30V2152.30M272.65 2121.30V2152.30M293.13 2121.30V2152.30M313.62 2121.30V2152.30M334.10 2121.30V2152.30M354.58 2121.30V2152.30M375.06 2121.30V2152.30M395.55 2121.30V2152.30M416.03 2121.30V2152.30M436.51 2121.30V2152.30M457.00 2121.30V2152.30M477.48 2121.30V2152.30M497.96 2121.30V2152.30M518.44 2121.30V2152.30M538.93 2121.30V2152.30M559.41 2121.30V2152.30M579.89 2121.30V2152.30M600.38 2121.30V2152.30M620.86 2121.30V2152.30M641.34 2121.30V2152.30M661.83 2121.30V2152.30M682.31 2121.30V2152.30M702.79 2121.30V2152.30M723.28 2121.30V2152.30M743.76 2121.30V2152.30M764.24 2121.30V2152.30M784.72 2121.30V2152.30M805.21 2121.30V2152.30M825.69 2121.30V2152.30M846.17 2121.30V2152.30M866.66 2121.30V2152.30M887.14 2121.30V2152.30M907.62 2121.30V2152.30M928.11 2121.30V2152.30M948.59 2121.30V2152.30M969.07 2121.30V2152.30M989.55 2121.30V2152.30M1010.04 2121.30V2152.30M1030.52 2121.30V2152.30M1051.00 2121.30V2152.30M1071.49 2121.30V2152.30M1091.97 2121.30V2152.30M1112.45 2121.30V2152.30M1132.93 2121.30V2152.30M1153.42 2121.30V2152.30M1173.90 2121.30V2152.30M1194.38 2121.30V2152.30M1214.87 2121.30V2152.30M1235.35 2121.30V2152.30M1255.83 2121.30V2152.30M1276.32 2121.30V2152.30M1296.80 2121.30V2152.30M1317.28 2121.30V2152.30M1337.77 2121.30V2152.30M1358.25 2121.30V2152.30M1378.73 2121.30V2152.30M1399.21 2121.30V2152.30M1419.70 2121.30V2152.30M1440.18 2121.30V2152.30M1460.66 2121.30V2152.30M1481.15 2121.30V2152.30M1501.63 2121.30V2152.30M1522.11 2121.30V2152.30M1542.60 2121.30V2152.30M1563.08 2121.30V2152.30M1583.56 2121.30V2152.30M1604.04 2121.30V2152.30M1624.53 2121.30V2152.30M1645.01 2121.30V2152.30M1665.49 2121.30V2152.30M1685.98 2121.30V2152.30M1706.46 2121.30V2152.30M1726.94 2121.30V2152.30M1747.43 2121.30V2152.30M1767.91 2121.30V2152.30M1788.39 2121.30V2152.30M211.20 2121.30H1788.39M211.20 2152.30H1788.39M211.20 2175.40V2206.40M231.68 2175.40V2206.40M252.17 2175.40V2206.40M272.65 2175.40V2206.40M293.13 2175.40V2206.40M313.62 2175.40V2206.40M334.10 2175.40V2206.40M354.58 2175.40V2206.40M375.06 2175.40V2206.40M395.55 2175.40V2206.40M416.03 2175.40V2206.40M436.51 2175.40V2206.40M457.00 2175.40V2206.40M477.48 2175.40V2206.40M497.96 2175.40V2206.40M518.44 2175.40V2206.40M538.93 2175.40V2206.40M559.41 2175.40V2206.40M579.89 2175.40V2206.40M600.38 2175.40V2206.40M620.86 2175.40V2206.40M641.34 2175.40V2206.40M661.83 2175.40V2206.40M682.31 2175.40V2206.40M702.79 2175.40V2206.40M723.28 2175.40V2206.40M743.76 2175.40V2206.40M764.24 2175.40V2206.40M784.72 2175.40V2206.40M805.21 2175.40V2206.40M825.69 2175.40V2206.40M846.17 2175.40V2206.40M866.66 2175.40V2206.40M887.14 2175.40V2206.40M907.62 2175.40V2206.40M928.11 2175.40V2206.40M948.59 2175.40V2206.40M969.07 2175.40V2206.40M989.55 2175.40V2206.40M1010.04 2175.40V2206.40M1030.52 2175.40V2206.40M1051.00 2175.40V2206.40M1071.49 2175.40V2206.40M1091.97 2175.40V2206.40M1112.45 2175.40V2206.40M1132.93 2175.40V2206.40M1153.42 2175.40V2206.40M1173.90 2175.40V2206.40M1194.38 2175.40V2206.40M1214.87 2175.40V2206.40M1235.35 2175.40V2206.40M1255.83 2175.40V2206.40M1276.32 2175.40V2206.40M1296.80 2175.40V2206.40M1317.28 2175.40V2206.40M1337.77 2175.40V2206.40M1358.25 2175.40V2206.40M1378.73 2175.40V2206.40M1399.21 2175.40V2206.40M1419.70 2175.40V2206.40M1440.18 2175.40V2206.40M1460.66 2175.40V2206.40M1481.15 2175.40V2206.40M1501.63 2175.40V2206.40M1522.11 2175.40V2206.40M1542.60 2175.40V2206.40M1563.08 2175.40V2206.40M1583.56 2175.40V2206.40M1604.04 2175.40V2206.40M1624.53 2175.40V2206.40M1645.01 2175.40V2206.40M1665.49 2175.40V2206.40M1685.98 2175.40V2206.40M1706.46 2175.40V2206.40M1726.94 2175.40V2206.40M1747.43 2175.40V2206.40M1767.91 2175.40V2206.40M1788.39 2175.40V2206.40M211.20 2175.40H1788.39M211.20 2206.40H1788.39" stroke="#c6c6c6" stroke-width="1" fill="none"/>
<g fill="#050505">
<circle cx="774.48" cy="2137.30" r="4.3"/>
<circle cx="835.93" cy="2137.30" r="4.3"/>
<circle cx="999.80" cy="2137.30" r="4.3"/>
<circle cx="1061.24" cy="2137.30" r="4.3"/>
<circle cx="1122.69" cy="2137.30" r="4.3"/>
<circle cx="1184.14" cy="2137.30" r="4.3"/>
<circle cx="1204.63" cy="2137.30" r="4.3"/>
<circle cx="774.48" cy="2191.40" r="4.3"/>
<circle cx="835.93" cy="2191.40" r="4.3"/>
<circle cx="999.80" cy="2191.40" r="4.3"/>
<circle cx="1061.24" cy="2191.40" r="4.3"/>
<circle cx="1122.69" cy="2191.40" r="4.3"/>
<circle cx="1184.14" cy="2191.40" r="4.3"/>
<circle cx="1204.63" cy="2191.40" r="4.3"/>
<circle cx="835.93" cy="1337.22" r="4.3"/>
<circle cx="1061.24" cy="1337.22" r="4.3"/>
<circle cx="1122.69" cy="1337.22" r="4.3"/>
<circle cx="1204.63" cy="1337.22" r="4.3"/>
<circle cx="794.97" cy="1368.24" r="4.3"/>
<circle cx="835.93" cy="1368.24" r="4.3"/>
<circle cx="1061.24" cy="1368.24" r="4.3"/>
<circle cx="1122.69" cy="1368.24" r="4.3"/>
<circle cx="1204.63" cy="1368.24" r="4.3"/>
<circle cx="794.97" cy="1399.26" r="4.3"/>
<circle cx="835.93" cy="1399.26" r="4.3"/>
<circle cx="1061.24" cy="1399.26" r="4.3"/>
<circle cx="1122.69" cy="1399.26" r="4.3"/>
<circle cx="1163.66" cy="1399.26" r="4.3"/>
<circle cx="1204.63" cy="1399.26" r="4.3"/>
<circle cx="774.48" cy="1430.28" r="4.3"/>
<circle cx="794.97" cy="1430.28" r="4.3"/>
<circle cx="835.93" cy="1430.28" r="4.3"/>
<circle cx="999.80" cy="1430.28" r="4.3"/>
<circle cx="1061.24" cy="1430.28" r="4.3"/>
<circle cx="1122.69" cy="1430.28" r="4.3"/>
<circle cx="1204.63" cy="1430.28" r="4.3"/>
<circle cx="774.48" cy="1461.29" r="4.3"/>
<circle cx="794.97" cy="1461.29" r="4.3"/>
<circle cx="835.93" cy="1461.29" r="4.3"/>
<circle cx="999.80" cy="1461.29" r="4.3"/>
<circle cx="1061.24" cy="1461.29" r="4.3"/>
<circle cx="1102.21" cy="1461.29" r="4.3"/>
<circle cx="1122.69" cy="1461.29" r="4.3"/>
<circle cx="1163.66" cy="1461.29" r="4.3"/>
<circle cx="1204.63" cy="1461.29" r="4.3"/>
<circle cx="774.48" cy="1512.50" r="4.3"/>
<circle cx="835.93" cy="1512.50" r="4.3"/>
<circle cx="999.80" cy="1512.50" r="4.3"/>
<circle cx="1061.24" cy="1512.50" r="4.3"/>
<circle cx="1122.69" cy="1512.50" r="4.3"/>
<circle cx="1143.18" cy="1512.50" r="4.3"/>
<circle cx="1204.63" cy="1512.50" r="4.3"/>
<circle cx="774.48" cy="1564.52" r="4.3"/>
<circle cx="835.93" cy="1564.52" r="4.3"/>
<circle cx="999.80" cy="1564.52" r="4.3"/>
<circle cx="1061.24" cy="1564.52" r="4.3"/>
<circle cx="1122.69" cy="1564.52" r="4.3"/>
<circle cx="1184.14" cy="1564.52" r="4.3"/>
<circle cx="1204.63" cy="1564.52" r="4.3"/>
<circle cx="774.48" cy="1595.57" r="4.3"/>
<circle cx="835.93" cy="1595.57" r="4.3"/>
<circle cx="876.90" cy="1595.57" r="4.3"/>
<circle cx="999.80" cy="1595.57" r="4.3"/>
<circle cx="1061.24" cy="1595.57" r="4.3"/>
<circle cx="1122.69" cy="1595.57" r="4.3"/>
<circle cx="1184.14" cy="1595.57" r="4.3"/>
<circle cx="1204.63" cy="1595.57" r="4.3"/>
<circle cx="774.48" cy="1626.62" r="4.3"/>
<circle cx="835.93" cy="1626.62" r="4.3"/>
<circle cx="876.90" cy="1626.62" r="4.3"/>
<circle cx="999.80" cy="1626.62" r="4.3"/>
<circle cx="1061.24" cy="1626.62" r="4.3"/>
<circle cx="1122.69" cy="1626.62" r="4.3"/>
<circle cx="1184.14" cy="1626.62" r="4.3"/>
<circle cx="1204.63" cy="1626.62" r="4.3"/>
<circle cx="1286.56" cy="1626.62" r="4.3"/>
<circle cx="774.48" cy="1657.66" r="4.3"/>
<circle cx="835.93" cy="1657.66" r="4.3"/>
<circle cx="999.80" cy="1657.66" r="4.3"/>
<circle cx="1061.24" cy="1657.66" r="4.3"/>
<circle cx="1122.69" cy="1657.66" r="4.3"/>
<circle cx="1184.14" cy="1657.66" r="4.3"/>
<circle cx="1204.63" cy="1657.66" r="4.3"/>
<circle cx="1266.07" cy="1657.66" r="4.3"/>
<circle cx="1286.56" cy="1657.66" r="4.3"/>
<circle cx="774.48" cy="1688.71" r="4.3"/>
<circle cx="835.93" cy="1688.71" r="4.3"/>
<circle cx="876.90" cy="1688.71" r="4.3"/>
<circle cx="999.80" cy="1688.71" r="4.3"/>
<circle cx="1061.24" cy="1688.71" r="4.3"/>
<circle cx="1122.69" cy="1688.71" r="4.3"/>
<circle cx="1184.14" cy="1688.71" r="4.3"/>
<circle cx="1204.63" cy="1688.71" r="4.3"/>
<circle cx="1225.11" cy="1688.71" r="4.3"/>
<circle cx="1266.07" cy="1688.71" r="4.3"/>
<circle cx="774.48" cy="1719.75" r="4.3"/>
<circle cx="835.93" cy="1719.75" r="4.3"/>
<circle cx="999.80" cy="1719.75" r="4.3"/>
<circle cx="1061.24" cy="1719.75" r="4.3"/>
<circle cx="1122.69" cy="1719.75" r="4.3"/>
<circle cx="1184.14" cy="1719.75" r="4.3"/>
<circle cx="1204.63" cy="1719.75" r="4.3"/>
<circle cx="1266.07" cy="1719.75" r="4.3"/>
<circle cx="1286.56" cy="1719.75" r="4.3"/>
<circle cx="1368.49" cy="1719.75" r="4.3"/>
<circle cx="1491.39" cy="1719.75" r="4.3"/>
<circle cx="1532.35" cy="1719.75" r="4.3"/>
<circle cx="303.37" cy="1750.80" r="4.3"/>
<circle cx="385.31" cy="1750.80" r="4.3"/>
<circle cx="446.75" cy="1750.80" r="4.3"/>
<circle cx="590.14" cy="1750.80" r="4.3"/>
<circle cx="610.62" cy="1750.80" r="4.3"/>
<circle cx="774.48" cy="1750.80" r="4.3"/>
<circle cx="835.93" cy="1750.80" r="4.3"/>
<circle cx="999.80" cy="1750.80" r="4.3"/>
<circle cx="1122.69" cy="1750.80" r="4.3"/>
<circle cx="1184.14" cy="1750.80" r="4.3"/>
<circle cx="1204.63" cy="1750.80" r="4.3"/>
<circle cx="1225.11" cy="1750.80" r="4.3"/>
<circle cx="1286.56" cy="1750.80" r="4.3"/>
<circle cx="1307.04" cy="1750.80" r="4.3"/>
<circle cx="1327.52" cy="1750.80" r="4.3"/>
<circle cx="1368.49" cy="1750.80" r="4.3"/>
<circle cx="1388.97" cy="1750.80" r="4.3"/>
<circle cx="1532.35" cy="1750.80" r="4.3"/>
<circle cx="221.44" cy="1781.85" r="4.3"/>
<circle cx="282.89" cy="1781.85" r="4.3"/>
<circle cx="303.37" cy="1781.85" r="4.3"/>
<circle cx="385.31" cy="1781.85" r="4.3"/>
<circle cx="446.75" cy="1781.85" r="4.3"/>
<circle cx="590.14" cy="1781.85" r="4.3"/>
<circle cx="774.48" cy="1781.85" r="4.3"/>
<circle cx="835.93" cy="1781.85" r="4.3"/>
<circle cx="856.41" cy="1781.85" r="4.3"/>
<circle cx="876.90" cy="1781.85" r="4.3"/>
<circle cx="999.80" cy="1781.85" r="4.3"/>
<circle cx="1061.24" cy="1781.85" r="4.3"/>
<circle cx="1122.69" cy="1781.85" r="4.3"/>
<circle cx="1184.14" cy="1781.85" r="4.3"/>
<circle cx="1204.63" cy="1781.85" r="4.3"/>
<circle cx="1225.11" cy="1781.85" r="4.3"/>
<circle cx="1286.56" cy="1781.85" r="4.3"/>
<circle cx="1307.04" cy="1781.85" r="4.3"/>
<circle cx="1327.52" cy="1781.85" r="4.3"/>
<circle cx="1491.39" cy="1781.85" r="4.3"/>
<circle cx="1552.84" cy="1781.85" r="4.3"/>
<circle cx="1593.80" cy="1781.85" r="4.3"/>
<circle cx="282.89" cy="1812.89" r="4.3"/>
<circle cx="303.37" cy="1812.89" r="4.3"/>
<circle cx="385.31" cy="1812.89" r="4.3"/>
<circle cx="446.75" cy="1812.89" r="4.3"/>
<circle cx="590.14" cy="1812.89" r="4.3"/>
<circle cx="610.62" cy="1812.89" r="4.3"/>
<circle cx="774.48" cy="1812.89" r="4.3"/>
<circle cx="815.45" cy="1812.89" r="4.3"/>
<circle cx="835.93" cy="1812.89" r="4.3"/>
<circle cx="856.41" cy="1812.89" r="4.3"/>
<circle cx="876.90" cy="1812.89" r="4.3"/>
<circle cx="999.80" cy="1812.89" r="4.3"/>
<circle cx="1020.28" cy="1812.89" r="4.3"/>
<circle cx="1061.24" cy="1812.89" r="4.3"/>
<circle cx="1122.69" cy="1812.89" r="4.3"/>
<circle cx="1184.14" cy="1812.89" r="4.3"/>
<circle cx="1204.63" cy="1812.89" r="4.3"/>
<circle cx="1225.11" cy="1812.89" r="4.3"/>
<circle cx="1286.56" cy="1812.89" r="4.3"/>
<circle cx="1388.97" cy="1812.89" r="4.3"/>
<circle cx="1491.39" cy="1812.89" r="4.3"/>
<circle cx="1552.84" cy="1812.89" r="4.3"/>
<circle cx="1593.80" cy="1812.89" r="4.3"/>
<circle cx="303.37" cy="1843.94" r="4.3"/>
<circle cx="446.75" cy="1843.94" r="4.3"/>
<circle cx="590.14" cy="1843.94" r="4.3"/>
<circle cx="610.62" cy="1843.94" r="4.3"/>
<circle cx="774.48" cy="1843.94" r="4.3"/>
<circle cx="815.45" cy="1843.94" r="4.3"/>
<circle cx="835.93" cy="1843.94" r="4.3"/>
<circle cx="979.31" cy="1843.94" r="4.3"/>
<circle cx="999.80" cy="1843.94" r="4.3"/>
<circle cx="1020.28" cy="1843.94" r="4.3"/>
<circle cx="1122.69" cy="1843.94" r="4.3"/>
<circle cx="1184.14" cy="1843.94" r="4.3"/>
<circle cx="1204.63" cy="1843.94" r="4.3"/>
<circle cx="1307.04" cy="1843.94" r="4.3"/>
<circle cx="1327.52" cy="1843.94" r="4.3"/>
<circle cx="1450.42" cy="1843.94" r="4.3"/>
<circle cx="1470.90" cy="1843.94" r="4.3"/>
<circle cx="303.37" cy="1874.98" r="4.3"/>
<circle cx="446.75" cy="1874.98" r="4.3"/>
<circle cx="590.14" cy="1874.98" r="4.3"/>
<circle cx="610.62" cy="1874.98" r="4.3"/>
<circle cx="672.07" cy="1874.98" r="4.3"/>
<circle cx="774.48" cy="1874.98" r="4.3"/>
<circle cx="815.45" cy="1874.98" r="4.3"/>
<circle cx="835.93" cy="1874.98" r="4.3"/>
<circle cx="958.83" cy="1874.98" r="4.3"/>
<circle cx="979.31" cy="1874.98" r="4.3"/>
<circle cx="999.80" cy="1874.98" r="4.3"/>
<circle cx="1020.28" cy="1874.98" r="4.3"/>
<circle cx="1122.69" cy="1874.98" r="4.3"/>
<circle cx="1184.14" cy="1874.98" r="4.3"/>
<circle cx="1204.63" cy="1874.98" r="4.3"/>
<circle cx="1307.04" cy="1874.98" r="4.3"/>
<circle cx="1327.52" cy="1874.98" r="4.3"/>
<circle cx="1450.42" cy="1874.98" r="4.3"/>
<circle cx="1470.90" cy="1874.98" r="4.3"/>
<circle cx="1593.80" cy="1874.98" r="4.3"/>
<circle cx="282.89" cy="1906.03" r="4.3"/>
<circle cx="303.37" cy="1906.03" r="4.3"/>
<circle cx="385.31" cy="1906.03" r="4.3"/>
<circle cx="446.75" cy="1906.03" r="4.3"/>
<circle cx="590.14" cy="1906.03" r="4.3"/>
<circle cx="610.62" cy="1906.03" r="4.3"/>
<circle cx="672.07" cy="1906.03" r="4.3"/>
<circle cx="774.48" cy="1906.03" r="4.3"/>
<circle cx="815.45" cy="1906.03" r="4.3"/>
<circle cx="835.93" cy="1906.03" r="4.3"/>
<circle cx="856.41" cy="1906.03" r="4.3"/>
<circle cx="876.90" cy="1906.03" r="4.3"/>
<circle cx="958.83" cy="1906.03" r="4.3"/>
<circle cx="979.31" cy="1906.03" r="4.3"/>
<circle cx="999.80" cy="1906.03" r="4.3"/>
<circle cx="1020.28" cy="1906.03" r="4.3"/>
<circle cx="1122.69" cy="1906.03" r="4.3"/>
<circle cx="1184.14" cy="1906.03" r="4.3"/>
<circle cx="1204.63" cy="1906.03" r="4.3"/>
<circle cx="1307.04" cy="1906.03" r="4.3"/>
<circle cx="1327.52" cy="1906.03" r="4.3"/>
<circle cx="1450.42" cy="1906.03" r="4.3"/>
<circle cx="1470.90" cy="1906.03" r="4.3"/>
<circle cx="1491.39" cy="1906.03" r="4.3"/>
<circle cx="1552.84" cy="1906.03" r="4.3"/>
<circle cx="1593.80" cy="1906.03" r="4.3"/>
<circle cx="221.44" cy="1937.08" r="4.3"/>
<circle cx="303.37" cy="1937.08" r="4.3"/>
<circle cx="446.75" cy="1937.08" r="4.3"/>
<circle cx="590.14" cy="1937.08" r="4.3"/>
<circle cx="610.62" cy="1937.08" r="4.3"/>
<circle cx="672.07" cy="1937.08" r="4.3"/>
<circle cx="774.48" cy="1937.08" r="4.3"/>
<circle cx="815.45" cy="1937.08" r="4.3"/>
<circle cx="835.93" cy="1937.08" r="4.3"/>
<circle cx="856.41" cy="1937.08" r="4.3"/>
<circle cx="876.90" cy="1937.08" r="4.3"/>
<circle cx="958.83" cy="1937.08" r="4.3"/>
<circle cx="979.31" cy="1937.08" r="4.3"/>
<circle cx="999.80" cy="1937.08" r="4.3"/>
<circle cx="1020.28" cy="1937.08" r="4.3"/>
<circle cx="1122.69" cy="1937.08" r="4.3"/>
<circle cx="1184.14" cy="1937.08" r="4.3"/>
<circle cx="1204.63" cy="1937.08" r="4.3"/>
<circle cx="1225.11" cy="1937.08" r="4.3"/>
<circle cx="1307.04" cy="1937.08" r="4.3"/>
<circle cx="1327.52" cy="1937.08" r="4.3"/>
<circle cx="1470.90" cy="1937.08" r="4.3"/>
<circle cx="1491.39" cy="1937.08" r="4.3"/>
<circle cx="1552.84" cy="1937.08" r="4.3"/>
<circle cx="1593.80" cy="1937.08" r="4.3"/>
<circle cx="241.92" cy="1988.69" r="4.3"/>
<circle cx="323.86" cy="1988.69" r="4.3"/>
<circle cx="713.03" cy="1988.69" r="4.3"/>
<circle cx="754.00" cy="1988.69" r="4.3"/>
<circle cx="774.48" cy="1988.69" r="4.3"/>
<circle cx="835.93" cy="1988.69" r="4.3"/>
<circle cx="999.80" cy="1988.69" r="4.3"/>
<circle cx="1020.28" cy="1988.69" r="4.3"/>
<circle cx="1061.24" cy="1988.69" r="4.3"/>
<circle cx="1122.69" cy="1988.69" r="4.3"/>
<circle cx="1184.14" cy="1988.69" r="4.3"/>
<circle cx="1204.63" cy="1988.69" r="4.3"/>
<circle cx="1286.56" cy="1988.69" r="4.3"/>
<circle cx="1409.46" cy="1988.69" r="4.3"/>
<circle cx="1450.42" cy="1988.69" r="4.3"/>
<circle cx="1778.15" cy="1988.69" r="4.3"/>
<circle cx="774.48" cy="2019.86" r="4.3"/>
<circle cx="835.93" cy="2019.86" r="4.3"/>
<circle cx="917.86" cy="2019.86" r="4.3"/>
<circle cx="938.35" cy="2019.86" r="4.3"/>
<circle cx="999.80" cy="2019.86" r="4.3"/>
<circle cx="1020.28" cy="2019.86" r="4.3"/>
<circle cx="1061.24" cy="2019.86" r="4.3"/>
<circle cx="1081.73" cy="2019.86" r="4.3"/>
<circle cx="1122.69" cy="2019.86" r="4.3"/>
<circle cx="1184.14" cy="2019.86" r="4.3"/>
<circle cx="1204.63" cy="2019.86" r="4.3"/>
<circle cx="1286.56" cy="2019.86" r="4.3"/>
<circle cx="774.48" cy="2051.04" r="4.3"/>
<circle cx="835.93" cy="2051.04" r="4.3"/>
<circle cx="917.86" cy="2051.04" r="4.3"/>
<circle cx="938.35" cy="2051.04" r="4.3"/>
<circle cx="999.80" cy="2051.04" r="4.3"/>
<circle cx="1020.28" cy="2051.04" r="4.3"/>
<circle cx="1061.24" cy="2051.04" r="4.3"/>
<circle cx="1081.73" cy="2051.04" r="4.3"/>
<circle cx="1122.69" cy="2051.04" r="4.3"/>
<circle cx="1184.14" cy="2051.04" r="4.3"/>
<circle cx="1204.63" cy="2051.04" r="4.3"/>
<circle cx="241.92" cy="2082.21" r="4.3"/>
<circle cx="323.86" cy="2082.21" r="4.3"/>
<circle cx="713.03" cy="2082.21" r="4.3"/>
<circle cx="754.00" cy="2082.21" r="4.3"/>
<circle cx="774.48" cy="2082.21" r="4.3"/>
<circle cx="835.93" cy="2082.21" r="4.3"/>
<circle cx="999.80" cy="2082.21" r="4.3"/>
<circle cx="1020.28" cy="2082.21" r="4.3"/>
<circle cx="1061.24" cy="2082.21" r="4.3"/>
<circle cx="1122.69" cy="2082.21" r="4.3"/>
<circle cx="1184.14" cy="2082.21" r="4.3"/>
<circle cx="1204.63" cy="2082.21" r="4.3"/>
<circle cx="1409.46" cy="2082.21" r="4.3"/>
<circle cx="1450.42" cy="2082.21" r="4.3"/>
<circle cx="1778.15" cy="2082.21" r="4.3"/>
</g>
<g fill="#231f20" text-anchor="middle" stroke="#231f20" stroke-width="0.3">
<text x="136.3" y="1311.4" font-size="25.17" textLength="26.92" lengthAdjust="spacingAndGlyphs">23</text>
<text x="136.3" y="1342.4" font-size="25.17" textLength="26.92" lengthAdjust="spacingAndGlyphs">40</text>
<text x="136.3" y="1373.4" font-size="25.17" textLength="26.92" lengthAdjust="spacingAndGlyphs">48</text>
<text x="136.3" y="1404.5" font-size="25.17" textLength="26.92" lengthAdjust="spacingAndGlyphs">64</text>
<text x="136.3" y="1435.5" font-size="25.17" textLength="26.92" lengthAdjust="spacingAndGlyphs">72</text>
<text x="136.3" y="1466.5" font-size="25.17" textLength="26.92" lengthAdjust="spacingAndGlyphs">81</text>
<text x="136.3" y="1518.2" font-size="25.17" textLength="63.22" lengthAdjust="spacingAndGlyphs">76 (0)</text>
<text x="136.3" y="1568.8" font-size="25.17" textLength="76.68" lengthAdjust="spacingAndGlyphs">101 (0)</text>
<text x="136.3" y="1599.9" font-size="25.17" textLength="86.55" lengthAdjust="spacingAndGlyphs">111 (10)</text>
<text x="136.3" y="1630.9" font-size="25.17" textLength="88.34" lengthAdjust="spacingAndGlyphs">114 (13)</text>
<text x="136.3" y="1662.0" font-size="25.17" textLength="90.14" lengthAdjust="spacingAndGlyphs">130 (29)</text>
<text x="136.3" y="1693.0" font-size="25.17" textLength="90.14" lengthAdjust="spacingAndGlyphs">147 (46)</text>
<text x="136.3" y="1724.1" font-size="25.17" textLength="90.14" lengthAdjust="spacingAndGlyphs">192 (91)</text>
<text x="136.3" y="1755.1" font-size="25.17" textLength="103.59" lengthAdjust="spacingAndGlyphs">209 (108)</text>
<text x="136.3" y="1786.1" font-size="25.17" textLength="101.80" lengthAdjust="spacingAndGlyphs">213 (112)</text>
<text x="136.3" y="1817.2" font-size="25.17" textLength="101.80" lengthAdjust="spacingAndGlyphs">218 (117)</text>
<text x="136.3" y="1848.2" font-size="25.17" textLength="103.59" lengthAdjust="spacingAndGlyphs">232 (131)</text>
<text x="136.3" y="1879.3" font-size="25.17" textLength="103.59" lengthAdjust="spacingAndGlyphs">245 (144)</text>
<text x="136.3" y="1910.3" font-size="25.17" textLength="103.59" lengthAdjust="spacingAndGlyphs">255 (154)</text>
<text x="136.3" y="1941.4" font-size="25.17" textLength="103.59" lengthAdjust="spacingAndGlyphs">266 (165)</text>
<text x="136.3" y="1992.9" font-size="25.17" textLength="76.68" lengthAdjust="spacingAndGlyphs">104 (0)</text>
<text x="136.3" y="2024.1" font-size="25.17" textLength="73.09" lengthAdjust="spacingAndGlyphs">111 (7)</text>
<text x="136.3" y="2055.2" font-size="25.17" textLength="90.14" lengthAdjust="spacingAndGlyphs">125 (21)</text>
<text x="136.3" y="2086.4" font-size="25.17" textLength="90.14" lengthAdjust="spacingAndGlyphs">132 (28)</text>
<text x="136.3" y="2145.0" font-size="25.17" textLength="92.80" lengthAdjust="spacingAndGlyphs">78 (Unk)</text>
<text x="136.3" y="2199.7" font-size="25.17" textLength="92.80" lengthAdjust="spacingAndGlyphs">79 (Unk)</text>
</g>
<path d="M1803.6 1298.0L1811.5 1305.9L1803.6 1313.8L1795.7 1305.9Z" fill="#b1afb0" stroke="#111" stroke-width="2.2" stroke-linejoin="miter"/>
<path d="M1803.6 1329.0L1811.5 1336.9L1803.6 1344.8L1795.7 1336.9Z" fill="#b1afb0" stroke="#111" stroke-width="2.2" stroke-linejoin="miter"/>
<circle cx="1803.6" cy="1365.9" r="7.55" fill="#fff" stroke="#111" stroke-width="2.4"/>
<path d="M1803.6 1391.1L1811.5 1399.0L1803.6 1406.9L1795.7 1399.0Z" fill="#b1afb0" stroke="#111" stroke-width="2.2" stroke-linejoin="miter"/>
<path d="M1803.6 1422.1L1811.5 1430.0L1803.6 1437.9L1795.7 1430.0Z" fill="#b1afb0" stroke="#111" stroke-width="2.2" stroke-linejoin="miter"/>
<path d="M1803.6 1453.1L1811.5 1461.0L1803.6 1468.9L1795.7 1461.0Z" fill="#b1afb0" stroke="#111" stroke-width="2.2" stroke-linejoin="miter"/>
<rect x="1822.6" y="1290.2" width="18.6" height="186.1" fill="#c9745f"/>
<path d="M1803.6 1504.3L1811.5 1512.2L1803.6 1520.1L1795.7 1512.2Z" fill="#b1afb0" stroke="#111" stroke-width="2.2" stroke-linejoin="miter"/>
<rect x="1822.6" y="1496.4" width="18.6" height="31.2" fill="#a2dcf1"/>
<circle cx="1803.6" cy="1565.6" r="7.55" fill="#fff" stroke="#111" stroke-width="2.4"/>
<path d="M1803.6 1587.4L1811.5 1595.3L1803.6 1603.2L1795.7 1595.3Z" fill="#b1afb0" stroke="#111" stroke-width="2.2" stroke-linejoin="miter"/>
<path d="M1803.6 1618.4L1811.5 1626.3L1803.6 1634.2L1795.7 1626.3Z" fill="#b1afb0" stroke="#111" stroke-width="2.2" stroke-linejoin="miter"/>
<circle cx="1803.6" cy="1659.8" r="7.55" fill="#fff" stroke="#111" stroke-width="2.4"/>
<path d="M1803.6 1680.5L1811.5 1688.4L1803.6 1696.3L1795.7 1688.4Z" fill="#b1afb0" stroke="#111" stroke-width="2.2" stroke-linejoin="miter"/>
<circle cx="1803.6" cy="1716.7" r="7.55" fill="#fff" stroke="#111" stroke-width="2.4"/>
<circle cx="1803.6" cy="1748.4" r="7.55" fill="#fff" stroke="#111" stroke-width="2.4"/>
<path d="M1803.6 1773.6L1811.5 1781.5L1803.6 1789.4L1795.7 1781.5Z" fill="#b1afb0" stroke="#111" stroke-width="2.2" stroke-linejoin="miter"/>
<path d="M1803.6 1804.7L1811.5 1812.6L1803.6 1820.5L1795.7 1812.6Z" fill="#b1afb0" stroke="#111" stroke-width="2.2" stroke-linejoin="miter"/>
<circle cx="1802.5" cy="1843.1" r="7.55" fill="#fff" stroke="#111" stroke-width="2.4"/>
<path d="M1803.6 1866.8L1811.5 1874.7L1803.6 1882.6L1795.7 1874.7Z" fill="#b1afb0" stroke="#111" stroke-width="2.2" stroke-linejoin="miter"/>
<path d="M1803.6 1897.8L1811.5 1905.7L1803.6 1913.6L1795.7 1905.7Z" fill="#b1afb0" stroke="#111" stroke-width="2.2" stroke-linejoin="miter"/>
<path d="M1803.6 1928.9L1811.5 1936.8L1803.6 1944.7L1795.7 1936.8Z" fill="#b1afb0" stroke="#111" stroke-width="2.2" stroke-linejoin="miter"/>
<rect x="1822.6" y="1548.5" width="18.6" height="403.6" fill="#fdd07f"/>
<circle cx="1803.6" cy="1987.5" r="7.55" fill="#fff" stroke="#111" stroke-width="2.4"/>
<circle cx="1803.6" cy="2021.1" r="7.55" fill="#fff" stroke="#111" stroke-width="2.4"/>
<path d="M1803.6 2042.8L1811.5 2050.7L1803.6 2058.6L1795.7 2050.7Z" fill="#b1afb0" stroke="#111" stroke-width="2.2" stroke-linejoin="miter"/>
<path d="M1803.6 2074.0L1811.5 2081.9L1803.6 2089.8L1795.7 2081.9Z" fill="#b1afb0" stroke="#111" stroke-width="2.2" stroke-linejoin="miter"/>
<rect x="1822.6" y="1972.6" width="18.6" height="124.7" fill="#8dc63f"/>
<g fill="#231f20" stroke="#231f20" stroke-width="0.3">
<text x="1844.51" y="1387.3" font-size="25.17" textLength="29.60" lengthAdjust="spacingAndGlyphs">P1</text>
<text x="1844.51" y="1516.3" font-size="25.17" textLength="29.60" lengthAdjust="spacingAndGlyphs">P2</text>
<text x="1844.51" y="1754.0" font-size="25.17" textLength="29.60" lengthAdjust="spacingAndGlyphs">P3</text>
<text x="1844.51" y="2042.3" font-size="25.17" textLength="29.60" lengthAdjust="spacingAndGlyphs">P4</text>
<text x="1794.21" y="2144.6" font-size="25.17" textLength="208.12" lengthAdjust="spacingAndGlyphs">EPI_ISL_11628400</text>
<text x="1794.21" y="2199.0" font-size="25.17" textLength="208.12" lengthAdjust="spacingAndGlyphs">EPI_ISL_11696379</text>
</g>
<path d="M221.44 2212.3V2221.5M241.92 2212.3V2221.5M262.41 2212.3V2221.5M282.89 2212.3V2221.5M303.37 2212.3V2221.5M323.86 2212.3V2221.5M344.34 2212.3V2221.5M364.82 2212.3V2221.5M385.31 2212.3V2221.5M405.79 2212.3V2221.5M426.27 2212.3V2221.5M446.75 2212.3V2221.5M467.24 2212.3V2221.5M487.72 2212.3V2221.5M508.20 2212.3V2221.5M528.69 2212.3V2221.5M549.17 2212.3V2221.5M569.65 2212.3V2221.5M590.14 2212.3V2221.5M610.62 2212.3V2221.5M631.10 2212.3V2221.5M651.58 2212.3V2221.5M672.07 2212.3V2221.5M692.55 2212.3V2221.5M713.03 2212.3V2221.5M733.52 2212.3V2221.5M754.00 2212.3V2221.5M774.48 2212.3V2221.5M794.97 2212.3V2221.5M815.45 2212.3V2221.5M835.93 2212.3V2221.5M856.41 2212.3V2221.5M876.90 2212.3V2221.5M897.38 2212.3V2221.5M917.86 2212.3V2221.5M938.35 2212.3V2221.5M958.83 2212.3V2221.5M979.31 2212.3V2221.5M999.80 2212.3V2221.5M1020.28 2212.3V2221.5M1040.76 2212.3V2221.5M1061.24 2212.3V2221.5M1081.73 2212.3V2221.5M1102.21 2212.3V2221.5M1122.69 2212.3V2221.5M1143.18 2212.3V2221.5M1163.66 2212.3V2221.5M1184.14 2212.3V2221.5M1204.63 2212.3V2221.5M1225.11 2212.3V2221.5M1245.59 2212.3V2221.5M1266.07 2212.3V2221.5M1286.56 2212.3V2221.5M1307.04 2212.3V2221.5M1327.52 2212.3V2221.5M1348.01 2212.3V2221.5M1368.49 2212.3V2221.5M1388.97 2212.3V2221.5M1409.46 2212.3V2221.5M1429.94 2212.3V2221.5M1450.42 2212.3V2221.5M1470.90 2212.3V2221.5M1491.39 2212.3V2221.5M1511.87 2212.3V2221.5M1532.35 2212.3V2221.5M1552.84 2212.3V2221.5M1573.32 2212.3V2221.5M1593.80 2212.3V2221.5M1614.29 2212.3V2221.5M1634.77 2212.3V2221.5M1655.25 2212.3V2221.5M1675.73 2212.3V2221.5M1696.22 2212.3V2221.5M1716.70 2212.3V2221.5M1737.18 2212.3V2221.5M1757.67 2212.3V2221.5M1778.15 2212.3V2221.5" stroke="#2b2b2b" stroke-width="3.8" fill="none"/>
<g font-size="19.4" fill="#4a4a4a" text-anchor="middle" stroke="#4a4a4a" stroke-width="0.3">
<text transform="translate(225.3 2267.3) rotate(-90)" font-size="20.18" textLength="60.40" lengthAdjust="spacingAndGlyphs">G569A</text>
<text transform="translate(245.8 2267.3) rotate(-90)" font-size="20.18" textLength="59.31" lengthAdjust="spacingAndGlyphs">T670G</text>
<text transform="translate(266.3 2267.3) rotate(-90)" font-size="20.18" textLength="69.02" lengthAdjust="spacingAndGlyphs">C1063T</text>
<text transform="translate(286.8 2267.3) rotate(-90)" font-size="20.18" textLength="70.10" lengthAdjust="spacingAndGlyphs">G3085T</text>
<text transform="translate(307.3 2267.3) rotate(-90)" font-size="20.18" textLength="69.02" lengthAdjust="spacingAndGlyphs">C3267T</text>
<text transform="translate(327.8 2267.3) rotate(-90)" font-size="20.18" textLength="71.19" lengthAdjust="spacingAndGlyphs">G4184A</text>
<text transform="translate(348.2 2267.3) rotate(-90)" font-size="20.18" textLength="69.02" lengthAdjust="spacingAndGlyphs">C4321T</text>
<text transform="translate(368.7 2267.3) rotate(-90)" font-size="20.18" textLength="70.11" lengthAdjust="spacingAndGlyphs">C4391A</text>
<text transform="translate(389.2 2267.3) rotate(-90)" font-size="20.18" textLength="70.11" lengthAdjust="spacingAndGlyphs">C4965A</text>
<text transform="translate(409.7 2267.3) rotate(-90)" font-size="20.18" textLength="69.02" lengthAdjust="spacingAndGlyphs">C5497T</text>
<text transform="translate(430.2 2267.3) rotate(-90)" font-size="20.18" textLength="69.02" lengthAdjust="spacingAndGlyphs">T5614C</text>
<text transform="translate(450.7 2267.3) rotate(-90)" font-size="20.18" textLength="70.11" lengthAdjust="spacingAndGlyphs">A5648C</text>
<text transform="translate(471.1 2267.3) rotate(-90)" font-size="20.18" textLength="69.02" lengthAdjust="spacingAndGlyphs">T6001C</text>
<text transform="translate(491.6 2267.3) rotate(-90)" font-size="20.18" textLength="69.02" lengthAdjust="spacingAndGlyphs">T6238C</text>
<text transform="translate(512.1 2267.3) rotate(-90)" font-size="20.18" textLength="69.02" lengthAdjust="spacingAndGlyphs">C6538T</text>
<text transform="translate(532.6 2267.3) rotate(-90)" font-size="20.18" textLength="71.19" lengthAdjust="spacingAndGlyphs">A7399G</text>
<text transform="translate(553.1 2267.3) rotate(-90)" font-size="20.18" textLength="69.02" lengthAdjust="spacingAndGlyphs">T8278C</text>
<text transform="translate(573.6 2267.3) rotate(-90)" font-size="20.18" textLength="79.81" lengthAdjust="spacingAndGlyphs">C10198T</text>
<text transform="translate(594.0 2267.3) rotate(-90)" font-size="20.18" textLength="79.81" lengthAdjust="spacingAndGlyphs">C13458T</text>
<text transform="translate(614.5 2267.3) rotate(-90)" font-size="20.18" textLength="81.98" lengthAdjust="spacingAndGlyphs">G15451A</text>
<text transform="translate(635.0 2267.3) rotate(-90)" font-size="20.18" textLength="79.81" lengthAdjust="spacingAndGlyphs">C15714T</text>
<text transform="translate(655.5 2267.3) rotate(-90)" font-size="20.18" textLength="79.81" lengthAdjust="spacingAndGlyphs">C15924T</text>
<text transform="translate(676.0 2267.3) rotate(-90)" font-size="20.18" textLength="79.81" lengthAdjust="spacingAndGlyphs">C17138T</text>
<text transform="translate(696.5 2267.3) rotate(-90)" font-size="20.18" textLength="79.81" lengthAdjust="spacingAndGlyphs">C19164T</text>
<text transform="translate(716.9 2267.3) rotate(-90)" font-size="20.18" textLength="79.81" lengthAdjust="spacingAndGlyphs">C19955T</text>
<text transform="translate(737.4 2267.3) rotate(-90)" font-size="20.18" textLength="81.98" lengthAdjust="spacingAndGlyphs">A20055G</text>
<text transform="translate(757.9 2267.3) rotate(-90)" font-size="20.18" textLength="79.81" lengthAdjust="spacingAndGlyphs">C21618T</text>
<text transform="translate(778.4 2267.3) rotate(-90)" font-size="20.18" textLength="80.89" lengthAdjust="spacingAndGlyphs">G21850T</text>
<text transform="translate(798.9 2267.3) rotate(-90)" font-size="20.18" textLength="79.81" lengthAdjust="spacingAndGlyphs">C22088T</text>
<text transform="translate(819.3 2267.3) rotate(-90)" font-size="20.18" textLength="79.81" lengthAdjust="spacingAndGlyphs">C22323T</text>
<text transform="translate(839.8 2267.3) rotate(-90)" font-size="20.18" textLength="83.05" lengthAdjust="spacingAndGlyphs">G22599C</text>
<text transform="translate(860.3 2267.3) rotate(-90)" font-size="20.18" textLength="80.90" lengthAdjust="spacingAndGlyphs">A22629C</text>
<text transform="translate(880.8 2267.3) rotate(-90)" font-size="20.18" textLength="79.81" lengthAdjust="spacingAndGlyphs">C22713T</text>
<text transform="translate(901.3 2267.3) rotate(-90)" font-size="20.18" textLength="81.98" lengthAdjust="spacingAndGlyphs">G22785A</text>
<text transform="translate(921.8 2267.3) rotate(-90)" font-size="20.18" textLength="80.89" lengthAdjust="spacingAndGlyphs">G22895T</text>
<text transform="translate(942.2 2267.3) rotate(-90)" font-size="20.18" textLength="79.81" lengthAdjust="spacingAndGlyphs">T22896C</text>
<text transform="translate(962.7 2267.3) rotate(-90)" font-size="20.18" textLength="81.98" lengthAdjust="spacingAndGlyphs">A22904G</text>
<text transform="translate(983.2 2267.3) rotate(-90)" font-size="20.18" textLength="81.98" lengthAdjust="spacingAndGlyphs">A22905G</text>
<text transform="translate(1003.7 2267.3) rotate(-90)" font-size="20.18" textLength="80.89" lengthAdjust="spacingAndGlyphs">T22926G</text>
<text transform="translate(1024.2 2267.3) rotate(-90)" font-size="20.18" textLength="79.81" lengthAdjust="spacingAndGlyphs">T22928C</text>
<text transform="translate(1044.7 2267.3) rotate(-90)" font-size="20.18" textLength="80.89" lengthAdjust="spacingAndGlyphs">T22928G</text>
<text transform="translate(1065.1 2267.3) rotate(-90)" font-size="20.18" textLength="78.74" lengthAdjust="spacingAndGlyphs">A22935T</text>
<text transform="translate(1085.6 2267.3) rotate(-90)" font-size="20.18" textLength="81.98" lengthAdjust="spacingAndGlyphs">A22964G</text>
<text transform="translate(1106.1 2267.3) rotate(-90)" font-size="20.18" textLength="81.98" lengthAdjust="spacingAndGlyphs">A22991G</text>
<text transform="translate(1126.6 2267.3) rotate(-90)" font-size="20.18" textLength="78.74" lengthAdjust="spacingAndGlyphs">A23013T</text>
<text transform="translate(1147.1 2267.3) rotate(-90)" font-size="20.18" textLength="80.89" lengthAdjust="spacingAndGlyphs">T23600G</text>
<text transform="translate(1167.6 2267.3) rotate(-90)" font-size="20.18" textLength="79.81" lengthAdjust="spacingAndGlyphs">C23603T</text>
<text transform="translate(1188.0 2267.3) rotate(-90)" font-size="20.18" textLength="83.05" lengthAdjust="spacingAndGlyphs">C23604G</text>
<text transform="translate(1208.5 2267.3) rotate(-90)" font-size="20.18" textLength="79.81" lengthAdjust="spacingAndGlyphs">C23625T</text>
<text transform="translate(1229.0 2267.3) rotate(-90)" font-size="20.18" textLength="80.89" lengthAdjust="spacingAndGlyphs">G24368T</text>
<text transform="translate(1249.5 2267.3) rotate(-90)" font-size="20.18" textLength="80.90" lengthAdjust="spacingAndGlyphs">A24424C</text>
<text transform="translate(1270.0 2267.3) rotate(-90)" font-size="20.18" textLength="80.89" lengthAdjust="spacingAndGlyphs">G24449T</text>
<text transform="translate(1290.5 2267.3) rotate(-90)" font-size="20.18" textLength="81.98" lengthAdjust="spacingAndGlyphs">A24494G</text>
<text transform="translate(1310.9 2267.3) rotate(-90)" font-size="20.18" textLength="78.74" lengthAdjust="spacingAndGlyphs">T24505A</text>
<text transform="translate(1331.4 2267.3) rotate(-90)" font-size="20.18" textLength="79.81" lengthAdjust="spacingAndGlyphs">C24507T</text>
<text transform="translate(1351.9 2267.3) rotate(-90)" font-size="20.18" textLength="79.81" lengthAdjust="spacingAndGlyphs">C24904T</text>
<text transform="translate(1372.4 2267.3) rotate(-90)" font-size="20.18" textLength="81.98" lengthAdjust="spacingAndGlyphs">A25146G</text>
<text transform="translate(1392.9 2267.3) rotate(-90)" font-size="20.18" textLength="79.46" lengthAdjust="spacingAndGlyphs">C27211A</text>
<text transform="translate(1413.4 2267.3) rotate(-90)" font-size="20.18" textLength="83.05" lengthAdjust="spacingAndGlyphs">G27382C</text>
<text transform="translate(1433.8 2267.3) rotate(-90)" font-size="20.18" textLength="78.74" lengthAdjust="spacingAndGlyphs">A27383T</text>
<text transform="translate(1454.3 2267.3) rotate(-90)" font-size="20.18" textLength="79.81" lengthAdjust="spacingAndGlyphs">T27384C</text>
<text transform="translate(1474.8 2267.3) rotate(-90)" font-size="20.18" textLength="79.81" lengthAdjust="spacingAndGlyphs">C27509T</text>
<text transform="translate(1495.3 2267.3) rotate(-90)" font-size="20.18" textLength="81.98" lengthAdjust="spacingAndGlyphs">A27521G</text>
<text transform="translate(1515.8 2267.3) rotate(-90)" font-size="20.18" textLength="78.74" lengthAdjust="spacingAndGlyphs">A27521T</text>
<text transform="translate(1536.3 2267.3) rotate(-90)" font-size="20.18" textLength="81.98" lengthAdjust="spacingAndGlyphs">G27626A</text>
<text transform="translate(1556.7 2267.3) rotate(-90)" font-size="20.18" textLength="80.89" lengthAdjust="spacingAndGlyphs">G27666T</text>
<text transform="translate(1577.2 2267.3) rotate(-90)" font-size="20.18" textLength="79.81" lengthAdjust="spacingAndGlyphs">T27824C</text>
<text transform="translate(1597.7 2267.3) rotate(-90)" font-size="20.18" textLength="78.74" lengthAdjust="spacingAndGlyphs">T27922A</text>
<text transform="translate(1618.2 2267.3) rotate(-90)" font-size="20.18" textLength="79.81" lengthAdjust="spacingAndGlyphs">C28253T</text>
<text transform="translate(1638.7 2267.3) rotate(-90)" font-size="20.18" textLength="80.89" lengthAdjust="spacingAndGlyphs">G28541T</text>
<text transform="translate(1659.2 2267.3) rotate(-90)" font-size="20.18" textLength="80.90" lengthAdjust="spacingAndGlyphs">C28550A</text>
<text transform="translate(1679.6 2267.3) rotate(-90)" font-size="20.18" textLength="79.81" lengthAdjust="spacingAndGlyphs">C28567T</text>
<text transform="translate(1700.1 2267.3) rotate(-90)" font-size="20.18" textLength="78.74" lengthAdjust="spacingAndGlyphs">T28570A</text>
<text transform="translate(1720.6 2267.3) rotate(-90)" font-size="20.18" textLength="79.81" lengthAdjust="spacingAndGlyphs">C28708T</text>
<text transform="translate(1741.1 2267.3) rotate(-90)" font-size="20.18" textLength="79.81" lengthAdjust="spacingAndGlyphs">C29230T</text>
<text transform="translate(1761.6 2267.3) rotate(-90)" font-size="20.18" textLength="79.81" lengthAdjust="spacingAndGlyphs">C29284T</text>
<text transform="translate(1782.0 2267.3) rotate(-90)" font-size="20.18" textLength="80.90" lengthAdjust="spacingAndGlyphs">A29510C</text>
</g>
<g font-size="20.8" fill="#4a4a4a" stroke="#4a4a4a" stroke-width="0.3">
<text transform="translate(225.2 1242.9) rotate(-90)" font-size="21.63" textLength="113.33" lengthAdjust="spacingAndGlyphs">nsp1 E102K</text>
<text transform="translate(245.7 1242.9) rotate(-90)" font-size="21.63" textLength="114.48" lengthAdjust="spacingAndGlyphs">nsp1 S135R</text>
<text transform="translate(286.7 1242.9) rotate(-90)" font-size="21.63" textLength="154.97" lengthAdjust="spacingAndGlyphs">nsp3 E940/122D</text>
<text transform="translate(307.2 1242.9) rotate(-90)" font-size="21.63" textLength="155.75" lengthAdjust="spacingAndGlyphs">nsp3 T1001/183I</text>
<text transform="translate(327.7 1242.9) rotate(-90)" font-size="21.63" textLength="167.69" lengthAdjust="spacingAndGlyphs">nsp3 G1307/489S</text>
<text transform="translate(389.1 1242.9) rotate(-90)" font-size="21.63" textLength="164.99" lengthAdjust="spacingAndGlyphs">nsp3 T1567/749N</text>
<text transform="translate(450.6 1242.9) rotate(-90)" font-size="21.63" textLength="167.69" lengthAdjust="spacingAndGlyphs">nsp3 K1795/977Q</text>
<text transform="translate(593.9 1242.9) rotate(-90)" font-size="21.63" textLength="176.95" lengthAdjust="spacingAndGlyphs">nsp12 S4398L/S6L</text>
<text transform="translate(614.4 1242.9) rotate(-90)" font-size="21.63" textLength="179.26" lengthAdjust="spacingAndGlyphs">nsp12 G5063/671S</text>
<text transform="translate(675.9 1242.9) rotate(-90)" font-size="21.63" textLength="175.79" lengthAdjust="spacingAndGlyphs">nsp13 S5625/301F</text>
<text transform="translate(696.4 1242.5) rotate(-90)" font-size="21.63" textLength="67.04" lengthAdjust="spacingAndGlyphs">ORF1b</text>
<text transform="translate(716.8 1242.9) rotate(-90)" font-size="21.63" textLength="165.77" lengthAdjust="spacingAndGlyphs">nsp16 T6563/112I</text>
<text transform="translate(757.8 1242.0) rotate(-90)" font-size="21.63" textLength="41.62" lengthAdjust="spacingAndGlyphs">T19I</text>
<text transform="translate(778.3 1243.2) rotate(-90)" font-size="21.63" textLength="52.03" lengthAdjust="spacingAndGlyphs">E96D</text>
<text transform="translate(798.8 1243.2) rotate(-90)" font-size="21.63" textLength="58.98" lengthAdjust="spacingAndGlyphs">L176F</text>
<text transform="translate(819.2 1242.4) rotate(-90)" font-size="21.63" textLength="61.29" lengthAdjust="spacingAndGlyphs">S254F</text>
<text transform="translate(839.7 1243.2) rotate(-90)" font-size="21.63" textLength="62.43" lengthAdjust="spacingAndGlyphs">R346T</text>
<text transform="translate(860.2 1243.2) rotate(-90)" font-size="21.63" textLength="61.29" lengthAdjust="spacingAndGlyphs">K356T</text>
<text transform="translate(880.7 1243.2) rotate(-90)" font-size="21.63" textLength="60.15" lengthAdjust="spacingAndGlyphs">P384L</text>
<text transform="translate(901.2 1243.2) rotate(-90)" font-size="21.63" textLength="63.60" lengthAdjust="spacingAndGlyphs">R408K</text>
<text transform="translate(921.7 1241.6) rotate(-90)" font-size="21.63" textLength="61.29" lengthAdjust="spacingAndGlyphs">V445F</text>
<text transform="translate(942.1 1241.6) rotate(-90)" font-size="21.63" textLength="62.45" lengthAdjust="spacingAndGlyphs">V445A</text>
<text transform="translate(962.6 1243.2) rotate(-90)" font-size="21.63" textLength="64.75" lengthAdjust="spacingAndGlyphs">N448D</text>
<text transform="translate(983.1 1243.2) rotate(-90)" font-size="21.63" textLength="63.60" lengthAdjust="spacingAndGlyphs">N448S</text>
<text transform="translate(1003.6 1243.2) rotate(-90)" font-size="21.63" textLength="65.91" lengthAdjust="spacingAndGlyphs">L455W</text>
<text transform="translate(1024.1 1243.2) rotate(-90)" font-size="21.63" textLength="58.98" lengthAdjust="spacingAndGlyphs">F456L</text>
<text transform="translate(1044.6 1243.2) rotate(-90)" font-size="21.63" textLength="61.29" lengthAdjust="spacingAndGlyphs">F456V</text>
<text transform="translate(1065.0 1243.2) rotate(-90)" font-size="21.63" textLength="65.91" lengthAdjust="spacingAndGlyphs">K458M</text>
<text transform="translate(1085.5 1241.6) rotate(-90)" font-size="21.63" textLength="62.45" lengthAdjust="spacingAndGlyphs">V445A</text>
<text transform="translate(1106.0 1242.4) rotate(-90)" font-size="21.63" textLength="63.60" lengthAdjust="spacingAndGlyphs">S477D</text>
<text transform="translate(1126.5 1243.2) rotate(-90)" font-size="21.63" textLength="62.45" lengthAdjust="spacingAndGlyphs">E484V</text>
<text transform="translate(1147.0 1242.4) rotate(-90)" font-size="21.63" textLength="62.45" lengthAdjust="spacingAndGlyphs">S680A</text>
<text transform="translate(1167.5 1243.2) rotate(-90)" font-size="21.63" textLength="62.45" lengthAdjust="spacingAndGlyphs">P681Y</text>
<text transform="translate(1187.9 1243.2) rotate(-90)" font-size="21.63" textLength="63.60" lengthAdjust="spacingAndGlyphs">P681R</text>
<text transform="translate(1208.4 1241.5) rotate(-90)" font-size="21.63" textLength="62.45" lengthAdjust="spacingAndGlyphs">A688V</text>
<text transform="translate(1228.9 1243.2) rotate(-90)" font-size="21.63" textLength="63.60" lengthAdjust="spacingAndGlyphs">D936Y</text>
<text transform="translate(1249.4 1242.5) rotate(-90)" font-size="21.63" textLength="65.91" lengthAdjust="spacingAndGlyphs">Q954H</text>
<text transform="translate(1269.9 1241.6) rotate(-90)" font-size="21.63" textLength="61.29" lengthAdjust="spacingAndGlyphs">V963F</text>
<text transform="translate(1290.4 1243.2) rotate(-90)" font-size="21.63" textLength="64.75" lengthAdjust="spacingAndGlyphs">N978D</text>
<text transform="translate(1310.8 1243.2) rotate(-90)" font-size="21.63" textLength="58.98" lengthAdjust="spacingAndGlyphs">L981F</text>
<text transform="translate(1331.3 1242.4) rotate(-90)" font-size="21.63" textLength="60.15" lengthAdjust="spacingAndGlyphs">S982L</text>
<text transform="translate(1372.3 1243.2) rotate(-90)" font-size="21.63" textLength="74.78" lengthAdjust="spacingAndGlyphs">E1195G</text>
<text transform="translate(1389.1 1243.4) rotate(-90)" font-size="19.24" textLength="25.72" lengthAdjust="spacingAndGlyphs">I4L</text>
<text transform="translate(1413.3 1243.2) rotate(-90)" font-size="21.63" textLength="53.18" lengthAdjust="spacingAndGlyphs">D61H</text>
<text transform="translate(1454.2 1243.2) rotate(-90)" font-size="21.63" textLength="49.73" lengthAdjust="spacingAndGlyphs">D61L</text>
<text transform="translate(1474.7 1242.0) rotate(-90)" font-size="21.63" textLength="89.02" lengthAdjust="spacingAndGlyphs">T39I/T24I</text>
<text transform="translate(1495.2 1243.2) rotate(-90)" font-size="21.63" textLength="52.03" lengthAdjust="spacingAndGlyphs">N43S</text>
<text transform="translate(1536.2 1243.2) rotate(-90)" font-size="21.63" textLength="53.18" lengthAdjust="spacingAndGlyphs">R78H</text>
<text transform="translate(1556.6 1243.2) rotate(-90)" font-size="21.63" textLength="52.03" lengthAdjust="spacingAndGlyphs">E91D</text>
<text transform="translate(1597.6 1243.2) rotate(-90)" font-size="21.63" textLength="43.94" lengthAdjust="spacingAndGlyphs">N10I</text>
<text transform="translate(1781.9 1242.4) rotate(-90)" font-size="21.63" textLength="63.60" lengthAdjust="spacingAndGlyphs">S413R</text>
</g>
<rect x="211.20" y="1246.40" width="389.18" height="36.90" fill="#fff" stroke="#c6c6c6" stroke-width="1"/>
<rect x="600.38" y="1246.40" width="143.38" height="36.90" fill="#fff" stroke="#c6c6c6" stroke-width="1"/>
<rect x="743.76" y="1246.40" width="634.97" height="36.90" fill="#fff" stroke="#c6c6c6" stroke-width="1"/>
<rect x="1378.73" y="1246.40" width="81.93" height="36.90" fill="#fff" stroke="#c6c6c6" stroke-width="1"/>
<rect x="1460.66" y="1246.40" width="102.41" height="36.90" fill="#fff" stroke="#c6c6c6" stroke-width="1"/>
<rect x="1563.08" y="1246.40" width="61.45" height="36.90" fill="#fff" stroke="#c6c6c6" stroke-width="1"/>
<rect x="1624.53" y="1246.40" width="163.86" height="36.90" fill="#fff" stroke="#c6c6c6" stroke-width="1"/>
<path d="M1583.56 1246.4V1260.4" stroke="#c6c6c6" stroke-width="1"/>
<rect x="764.24" y="1264.60" width="61.45" height="18.70" fill="#c2c2c2" stroke="#8e8e8e" stroke-width="1"/>
<rect x="825.69" y="1264.60" width="307.24" height="18.70" fill="#c2c2c2" stroke="#8e8e8e" stroke-width="1"/>
<rect x="1132.93" y="1264.60" width="81.93" height="18.70" fill="#c2c2c2" stroke="#8e8e8e" stroke-width="1"/>
<rect x="1214.87" y="1264.60" width="163.86" height="18.70" fill="#c2c2c2" stroke="#8e8e8e" stroke-width="1"/>
<g fill="#4a4a4a" stroke="#4a4a4a" stroke-width="0.3">
<text x="363.92" y="1273.9" font-size="21.53" textLength="66.72" lengthAdjust="spacingAndGlyphs">ORF1a</text>
<text x="630.02" y="1273.9" font-size="21.53" textLength="66.72" lengthAdjust="spacingAndGlyphs">ORF1b</text>
<text x="1070.86" y="1263.8" font-size="21.53" textLength="13.81" lengthAdjust="spacingAndGlyphs">S</text>
<text x="1395.12" y="1273.4" font-size="21.53" textLength="55.21" lengthAdjust="spacingAndGlyphs">ORF6</text>
<text x="1484.92" y="1273.4" font-size="21.53" textLength="66.72" lengthAdjust="spacingAndGlyphs">ORF7a</text>
<text x="1563.54" y="1264.5" font-size="20.7">7b</text>
<text x="1575.12" y="1284.4" font-size="21.53" textLength="55.21" lengthAdjust="spacingAndGlyphs">ORF8</text>
<text x="1634.12" y="1266.8" font-size="21.53" textLength="66.72" lengthAdjust="spacingAndGlyphs">ORF9b</text>
<text x="1757.30" y="1272.9" font-size="21.53" textLength="14.95" lengthAdjust="spacingAndGlyphs">N</text>
</g>
<g fill="#231f20" stroke="#231f20" stroke-width="0.3">
<text x="777.14" y="1280.7" font-size="18.51" textLength="36.58" lengthAdjust="spacingAndGlyphs">NTD</text>
<text x="953.74" y="1280.7" font-size="18.51" textLength="37.58" lengthAdjust="spacingAndGlyphs">RBD</text>
<text x="1156.00" y="1280.7" font-size="18.51" textLength="37.58" lengthAdjust="spacingAndGlyphs">CSR</text>
<text x="1284.19" y="1280.7" font-size="18.51" textLength="21.77" lengthAdjust="spacingAndGlyphs">S2</text>
</g>
<g fill="#231f20" stroke="#231f20" stroke-width="0.3">
<text x="59.93" y="1247.0" font-size="27.7">Days since</text>
<text x="60.11" y="1279.8" font-size="27.7">first positive</text>
<text x="1808.51" y="1277.8" font-size="27.9">Patient</text>
<text x="781.33" y="2350.8" font-size="27.7">Position in SARS−CoV−2 Genome</text>
<text x="210.70" y="2440.0" font-size="27.7" font-weight="bold">SNV Frequency</text>
<text x="212.52" y="2478.5" font-size="28.81" textLength="15.41" lengthAdjust="spacingAndGlyphs">0</text>
<text x="489.19" y="2478.5" font-size="28.81" textLength="15.41" lengthAdjust="spacingAndGlyphs">1</text>
<text x="627.73" y="2479.0" font-size="27.7">Nonsynonymous SNV</text>
<text x="1519.80" y="2392.8" font-size="27.7" font-weight="bold">Sample type</text>
<text x="1599.35" y="2433.8" font-size="27.7">Anterior Nares</text>
<text x="1597.13" y="2476.2" font-size="27.7">Nasopharynx</text>
</g>
<circle cx="605.6" cy="2466.7" r="5" fill="#050505"/>
<circle cx="1551.8" cy="2423.6" r="9.0" fill="#fff" stroke="#111" stroke-width="2.6"/>
<path d="M1551.8 2454.2L1561.8 2464.2L1551.8 2474.2L1541.8 2464.2Z" fill="#b1afb0" stroke="#111" stroke-width="2.6" stroke-linejoin="miter"/>
<defs><linearGradient id="lg" x1="0" x2="1" y1="0" y2="0"><stop offset="0" stop-color="#ffffff"/><stop offset="0.78" stop-color="#568f42"/><stop offset="1" stop-color="#176534"/></linearGradient></defs>
<rect x="237" y="2452.3" width="245.5" height="29" fill="url(#lg)" stroke="#c6c6c6" stroke-width="1"/>
<text x="1.16" y="1094.6" font-size="40" font-weight="bold" fill="#231f20" stroke="#231f20" stroke-width="0.3">b</text>
<path d="M78.9 1433.6H1.3V2189.8H22" stroke="#231f20" stroke-width="3" fill="none"/>
<path d="M1.3 1513.1H25" stroke="#231f20" stroke-width="3" fill="none"/>
<path d="M42.6 1513.1L20.5 1504.1L25.8 1513.1L20.5 1522.1Z" fill="#231f20"/>
<path d="M1.3 1556.9H25" stroke="#231f20" stroke-width="3" fill="none"/>
<path d="M42.6 1556.9L20.5 1547.9L25.8 1556.9L20.5 1565.9Z" fill="#231f20"/>
<path d="M1.3 1988.0H25" stroke="#231f20" stroke-width="3" fill="none"/>
<path d="M42.6 1988.0L20.5 1979.0L25.8 1988.0L20.5 1997.0Z" fill="#231f20"/>
<path d="M1.3 2134.8H25" stroke="#231f20" stroke-width="3" fill="none"/>
<path d="M42.6 2134.8L20.5 2125.8L25.8 2134.8L20.5 2143.8Z" fill="#231f20"/>
<path d="M1.3 2189.8H25" stroke="#231f20" stroke-width="3" fill="none"/>
<path d="M42.6 2189.8L20.5 2180.8L25.8 2189.8L20.5 2198.8Z" fill="#231f20"/>
</svg>
</body></html>
